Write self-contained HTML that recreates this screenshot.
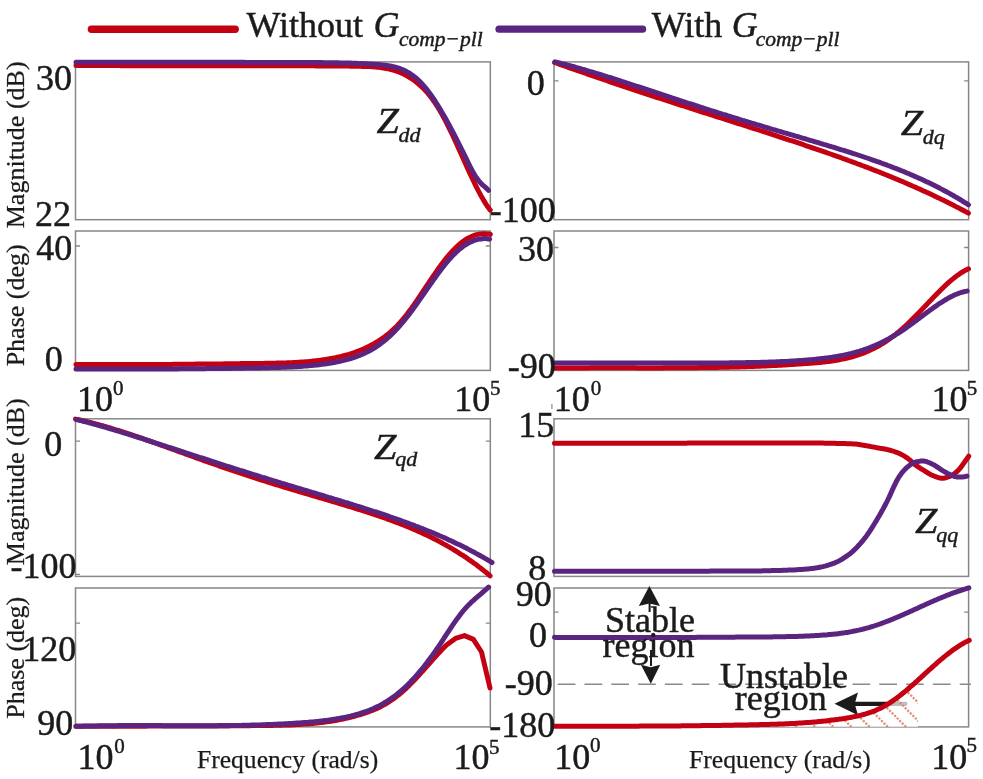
<!DOCTYPE html>
<html><head><meta charset="utf-8"><style>html,body{margin:0;padding:0;background:#fff;overflow:hidden}svg{display:block;will-change:transform}</style></head><body>
<svg width="983" height="779" viewBox="0 0 983 779" style="font-family:'Liberation Serif',serif">
<style>text{stroke:#1b1b1b;stroke-width:0.45px;paint-order:stroke}text.s{stroke-width:0.25px}</style>
<rect width="983" height="779" fill="#fff"/>
<rect x="75.5" y="61.9" width="414.80" height="157.80" fill="none" stroke="#878787" stroke-width="1.5"/>
<rect x="75.5" y="231.0" width="414.80" height="139.40" fill="none" stroke="#878787" stroke-width="1.5"/>
<path d="M75.5,246.0h4.5M490.3,246.0h-4.5" stroke="#878787" stroke-width="1.3"/>
<rect x="554.0" y="61.9" width="414.60" height="157.80" fill="none" stroke="#878787" stroke-width="1.5"/>
<path d="M554.0,80.8h4.5M968.6,80.8h-4.5" stroke="#878787" stroke-width="1.3"/>
<rect x="554.0" y="231.0" width="414.60" height="139.40" fill="none" stroke="#878787" stroke-width="1.5"/>
<path d="M554.0,247.5h4.5M968.6,247.5h-4.5" stroke="#878787" stroke-width="1.3"/>
<rect x="75.5" y="418.8" width="414.80" height="157.60" fill="none" stroke="#878787" stroke-width="1.5"/>
<path d="M75.5,441.2h4.5M490.3,441.2h-4.5" stroke="#878787" stroke-width="1.3"/>
<path d="M75.5,574.3h4.5M490.3,574.3h-4.5" stroke="#878787" stroke-width="1.3"/>
<rect x="75.5" y="588.0" width="414.80" height="138.90" fill="none" stroke="#878787" stroke-width="1.5"/>
<path d="M75.5,623.2h4.5M490.3,623.2h-4.5" stroke="#878787" stroke-width="1.3"/>
<rect x="554.0" y="418.8" width="414.60" height="157.60" fill="none" stroke="#878787" stroke-width="1.5"/>
<rect x="554.0" y="588.0" width="414.60" height="138.90" fill="none" stroke="#878787" stroke-width="1.5"/>
<path d="M554.0,612.2h4.5M968.6,612.2h-4.5" stroke="#878787" stroke-width="1.3"/>
<path d="M551.9,404.1V408.9" stroke="#9a9a9a" stroke-width="1.4"/>
<path d="M555,684.3H971" stroke="#8a8a8a" stroke-width="1.6" stroke-dasharray="17.7 9.1" stroke-dashoffset="-2.7"/>
<path d="M854,703.8H905.4" stroke="#1b1b1b" stroke-width="4.3" stroke-linecap="round"/>
<path d="M834.5,703.8 L858,692.5 L854.7,703.8 L858,715.3 Z" fill="#1b1b1b"/>
<defs><clipPath id="hc"><path d="M740.5,725.0 742.0,725.0 743.5,725.0 745.0,724.9 746.5,724.9 748.0,724.9 749.5,724.8 751.0,724.8 752.5,724.8 754.0,724.8 755.5,724.7 757.0,724.7 758.5,724.7 760.0,724.6 761.5,724.6 763.0,724.5 764.5,724.5 766.0,724.5 767.5,724.4 769.0,724.4 770.5,724.3 772.0,724.3 773.5,724.3 775.0,724.2 776.5,724.2 778.0,724.1 779.5,724.1 781.0,724.0 782.5,723.9 784.0,723.9 785.5,723.8 787.0,723.8 788.5,723.7 790.0,723.6 791.5,723.5 793.0,723.5 794.5,723.4 796.0,723.3 797.5,723.2 799.0,723.1 800.5,723.0 802.0,722.9 803.5,722.8 805.0,722.7 806.5,722.6 808.0,722.5 809.5,722.4 811.0,722.3 812.5,722.2 814.0,722.0 815.5,721.9 817.0,721.8 818.5,721.6 820.0,721.5 821.5,721.3 823.0,721.2 824.5,721.0 826.0,720.9 827.5,720.7 829.0,720.5 830.5,720.3 832.0,720.1 833.5,720.0 835.0,719.8 836.5,719.6 838.0,719.4 839.5,719.1 841.0,718.9 842.5,718.7 844.0,718.5 845.5,718.2 847.0,718.0 848.5,717.7 850.0,717.5 851.5,717.2 853.0,716.9 854.5,716.6 856.0,716.3 857.5,716.0 859.0,715.7 860.5,715.3 862.0,714.9 863.5,714.5 865.0,714.1 866.5,713.7 868.0,713.2 869.5,712.7 871.0,712.2 872.5,711.6 874.0,711.1 875.5,710.5 877.0,709.8 878.5,709.1 880.0,708.4 881.5,707.7 883.0,706.9 884.5,706.1 886.0,705.2 887.5,704.3 889.0,703.4 890.5,702.4 892.0,701.4 893.5,700.4 895.0,699.3 896.5,698.2 898.0,697.1 899.5,695.9 901.0,694.7 902.5,693.5 904.0,692.3 905.5,691.1 907.0,689.8 908.5,688.5 910.0,687.2 911.5,685.9 913.0,684.6 914.5,683.3 916.0,681.9 917.5,680.6 919.0,679.2 920.5,677.8 922.0,676.5 923.5,675.1 925.0,673.7 926.5,672.4 928.0,671.0 929.5,669.6 931.0,668.3 932.5,666.9 934.0,665.6 935.5,664.3 937.0,662.9 938.5,661.6 940.0,660.3 941.5,659.1 943.0,657.8 944.5,656.6 946.0,655.4 947.5,654.2 949.0,653.0 950.5,651.9 952.0,650.7 953.5,649.6 955.0,648.6 956.5,647.6 958.0,646.6 959.5,645.6 961.0,644.7 962.5,643.8 964.0,642.9 965.5,642.1 967.0,641.4 968.5,640.6 969.3,640.3 L968.7,726.9 L740,726.9 Z"/></clipPath><clipPath id="hcr"><rect x="760" y="684.3" width="158" height="42.6"/></clipPath></defs>
<g clip-path="url(#hc)"><g clip-path="url(#hcr)">
<rect x="760" y="684" width="158" height="43" fill="#fdfdfe" fill-opacity="0.72"/>
<path d="M710.5,677L760.5,727M728.7,677L778.7,727M746.9,677L796.9,727M765.1,677L815.1,727M783.3,677L833.3,727M801.5,677L851.5,727M819.7,677L869.7,727M837.9,677L887.9,727M856.1,677L906.1,727M874.3,677L924.3,727M892.5,677L942.5,727M910.7,677L960.7,727M928.9,677L978.9,727M947.1,677L997.1,727M965.3,677L1015.3,727M983.5,677L1033.5,727" stroke="#d9785a" stroke-opacity="0.8" stroke-width="2.3" stroke-dasharray="2.2 1.4"/>
</g></g>
<path d="M76.0,65.6 77.5,65.6 79.0,65.6 80.5,65.6 82.0,65.6 83.5,65.6 85.0,65.6 86.5,65.6 88.0,65.6 89.5,65.6 91.0,65.6 92.5,65.6 94.0,65.6 95.5,65.6 97.0,65.6 98.5,65.6 100.0,65.6 101.5,65.6 103.0,65.6 104.5,65.6 106.0,65.6 107.5,65.6 109.0,65.6 110.5,65.6 112.0,65.6 113.5,65.6 115.0,65.6 116.5,65.6 118.0,65.6 119.5,65.6 121.0,65.7 122.5,65.7 124.0,65.7 125.5,65.7 127.0,65.7 128.5,65.7 130.0,65.7 131.5,65.7 133.0,65.7 134.5,65.7 136.0,65.7 137.5,65.7 139.0,65.7 140.5,65.7 142.0,65.7 143.5,65.7 145.0,65.7 146.5,65.7 148.0,65.7 149.5,65.7 151.0,65.7 152.5,65.7 154.0,65.7 155.5,65.7 157.0,65.7 158.5,65.7 160.0,65.7 161.5,65.7 163.0,65.7 164.5,65.7 166.0,65.7 167.5,65.7 169.0,65.7 170.5,65.7 172.0,65.7 173.5,65.7 175.0,65.7 176.5,65.7 178.0,65.7 179.5,65.7 181.0,65.7 182.5,65.7 184.0,65.7 185.5,65.7 187.0,65.7 188.5,65.7 190.0,65.7 191.5,65.7 193.0,65.7 194.5,65.7 196.0,65.7 197.5,65.7 199.0,65.7 200.5,65.7 202.0,65.7 203.5,65.7 205.0,65.7 206.5,65.7 208.0,65.7 209.5,65.7 211.0,65.7 212.5,65.7 214.0,65.7 215.5,65.7 217.0,65.7 218.5,65.7 220.0,65.7 221.5,65.7 223.0,65.7 224.5,65.7 226.0,65.7 227.5,65.7 229.0,65.7 230.5,65.7 232.0,65.7 233.5,65.7 235.0,65.7 236.5,65.7 238.0,65.7 239.5,65.7 241.0,65.7 242.5,65.7 244.0,65.7 245.5,65.7 247.0,65.7 248.5,65.7 250.0,65.7 251.5,65.7 253.0,65.7 254.5,65.7 256.0,65.7 257.5,65.7 259.0,65.7 260.5,65.7 262.0,65.7 263.5,65.7 265.0,65.7 266.5,65.7 268.0,65.7 269.5,65.7 271.0,65.8 272.5,65.8 274.0,65.8 275.5,65.8 277.0,65.8 278.5,65.8 280.0,65.8 281.5,65.8 283.0,65.8 284.5,65.8 286.0,65.8 287.5,65.8 289.0,65.8 290.5,65.8 292.0,65.8 293.5,65.8 295.0,65.8 296.5,65.8 298.0,65.8 299.5,65.8 301.0,65.8 302.5,65.8 304.0,65.8 305.5,65.8 307.0,65.8 308.5,65.8 310.0,65.8 311.5,65.8 313.0,65.8 314.5,65.8 316.0,65.9 317.5,65.9 319.0,65.9 320.5,65.9 322.0,65.9 323.5,65.9 325.0,65.9 326.5,65.9 328.0,65.9 329.5,65.9 331.0,65.9 332.5,66.0 334.0,66.0 335.5,66.0 337.0,66.0 338.5,66.0 340.0,66.0 341.5,66.0 343.0,66.1 344.5,66.1 346.0,66.1 347.5,66.1 349.0,66.1 350.5,66.2 352.0,66.2 353.5,66.2 355.0,66.2 356.5,66.3 358.0,66.3 359.5,66.3 361.0,66.3 362.5,66.4 364.0,66.4 365.5,66.5 367.0,66.5 368.5,66.6 370.0,66.6 371.5,66.7 373.0,66.8 374.5,66.9 376.0,67.0 377.5,67.2 379.0,67.3 380.5,67.5 382.0,67.7 383.5,68.0 385.0,68.2 386.5,68.5 388.0,68.8 389.5,69.1 391.0,69.5 392.5,69.9 394.0,70.4 395.5,70.8 397.0,71.4 398.5,71.9 400.0,72.5 401.5,73.2 403.0,73.8 404.5,74.6 406.0,75.4 407.5,76.2 409.0,77.1 410.5,78.0 412.0,79.0 413.5,80.0 415.0,81.1 416.5,82.3 418.0,83.5 419.5,84.8 421.0,86.2 422.5,87.6 424.0,89.1 425.5,90.7 427.0,92.4 428.5,94.1 430.0,96.0 431.5,97.9 433.0,100.0 434.5,102.1 436.0,104.3 437.5,106.7 439.0,109.1 440.5,111.7 442.0,114.3 443.5,117.1 445.0,119.9 446.5,122.8 448.0,125.8 449.5,128.8 451.0,131.9 452.5,135.0 454.0,138.2 455.5,141.5 457.0,144.8 458.5,148.1 460.0,151.4 461.5,154.8 463.0,158.1 464.5,161.5 466.0,164.8 467.5,168.1 469.0,171.4 470.5,174.6 472.0,177.8 473.5,181.0 475.0,184.1 476.5,187.1 478.0,190.1 479.5,192.9 481.0,195.7 482.5,198.3 484.0,200.9 485.5,203.3 487.0,205.7 488.5,207.8 490.0,209.9 490.2,210.1" fill="none" stroke="#c40013" stroke-width="5.0" stroke-linecap="round" stroke-linejoin="round"/>
<path d="M76.0,62.2 77.5,62.2 79.0,62.2 80.5,62.2 82.0,62.2 83.5,62.2 85.0,62.2 86.5,62.2 88.0,62.2 89.5,62.2 91.0,62.2 92.5,62.2 94.0,62.2 95.5,62.2 97.0,62.2 98.5,62.2 100.0,62.2 101.5,62.2 103.0,62.2 104.5,62.2 106.0,62.2 107.5,62.2 109.0,62.2 110.5,62.2 112.0,62.2 113.5,62.2 115.0,62.2 116.5,62.3 118.0,62.3 119.5,62.3 121.0,62.3 122.5,62.3 124.0,62.3 125.5,62.3 127.0,62.3 128.5,62.3 130.0,62.3 131.5,62.3 133.0,62.3 134.5,62.3 136.0,62.3 137.5,62.3 139.0,62.3 140.5,62.3 142.0,62.3 143.5,62.3 145.0,62.3 146.5,62.3 148.0,62.3 149.5,62.3 151.0,62.3 152.5,62.3 154.0,62.3 155.5,62.3 157.0,62.3 158.5,62.3 160.0,62.3 161.5,62.3 163.0,62.3 164.5,62.3 166.0,62.3 167.5,62.3 169.0,62.3 170.5,62.3 172.0,62.3 173.5,62.3 175.0,62.3 176.5,62.3 178.0,62.3 179.5,62.3 181.0,62.3 182.5,62.3 184.0,62.3 185.5,62.3 187.0,62.3 188.5,62.3 190.0,62.3 191.5,62.3 193.0,62.3 194.5,62.3 196.0,62.3 197.5,62.3 199.0,62.3 200.5,62.3 202.0,62.3 203.5,62.3 205.0,62.3 206.5,62.3 208.0,62.3 209.5,62.3 211.0,62.3 212.5,62.3 214.0,62.3 215.5,62.3 217.0,62.3 218.5,62.3 220.0,62.3 221.5,62.3 223.0,62.3 224.5,62.3 226.0,62.3 227.5,62.3 229.0,62.3 230.5,62.3 232.0,62.3 233.5,62.3 235.0,62.3 236.5,62.3 238.0,62.3 239.5,62.3 241.0,62.3 242.5,62.3 244.0,62.3 245.5,62.4 247.0,62.4 248.5,62.4 250.0,62.4 251.5,62.4 253.0,62.4 254.5,62.4 256.0,62.4 257.5,62.4 259.0,62.4 260.5,62.4 262.0,62.4 263.5,62.4 265.0,62.4 266.5,62.4 268.0,62.4 269.5,62.4 271.0,62.4 272.5,62.4 274.0,62.4 275.5,62.4 277.0,62.4 278.5,62.4 280.0,62.4 281.5,62.4 283.0,62.4 284.5,62.5 286.0,62.5 287.5,62.5 289.0,62.5 290.5,62.5 292.0,62.5 293.5,62.5 295.0,62.5 296.5,62.5 298.0,62.5 299.5,62.5 301.0,62.5 302.5,62.5 304.0,62.5 305.5,62.5 307.0,62.6 308.5,62.6 310.0,62.6 311.5,62.6 313.0,62.6 314.5,62.6 316.0,62.6 317.5,62.6 319.0,62.6 320.5,62.6 322.0,62.6 323.5,62.7 325.0,62.7 326.5,62.7 328.0,62.7 329.5,62.7 331.0,62.7 332.5,62.7 334.0,62.8 335.5,62.8 337.0,62.8 338.5,62.8 340.0,62.9 341.5,62.9 343.0,62.9 344.5,63.0 346.0,63.0 347.5,63.0 349.0,63.1 350.5,63.1 352.0,63.2 353.5,63.2 355.0,63.3 356.5,63.3 358.0,63.4 359.5,63.5 361.0,63.5 362.5,63.6 364.0,63.7 365.5,63.7 367.0,63.8 368.5,63.9 370.0,64.0 371.5,64.1 373.0,64.2 374.5,64.3 376.0,64.4 377.5,64.5 379.0,64.6 380.5,64.7 382.0,64.9 383.5,65.0 385.0,65.2 386.5,65.4 388.0,65.6 389.5,65.9 391.0,66.1 392.5,66.5 394.0,66.8 395.5,67.2 397.0,67.6 398.5,68.1 400.0,68.6 401.5,69.2 403.0,69.8 404.5,70.5 406.0,71.3 407.5,72.1 409.0,73.0 410.5,73.9 412.0,75.0 413.5,76.1 415.0,77.2 416.5,78.5 418.0,79.8 419.5,81.3 421.0,82.8 422.5,84.4 424.0,86.1 425.5,87.9 427.0,89.7 428.5,91.7 430.0,93.7 431.5,95.8 433.0,98.0 434.5,100.2 436.0,102.5 437.5,104.9 439.0,107.3 440.5,109.8 442.0,112.4 443.5,115.0 445.0,117.6 446.5,120.3 448.0,123.0 449.5,125.8 451.0,128.6 452.5,131.5 454.0,134.3 455.5,137.2 457.0,140.2 458.5,143.1 460.0,146.1 461.5,149.1 463.0,152.2 464.5,155.2 466.0,158.2 467.5,161.3 469.0,164.3 470.5,167.3 472.0,170.2 473.5,172.9 475.0,175.5 476.5,177.8 478.0,179.9 479.5,181.8 481.0,183.4 482.5,184.8 484.0,186.1 485.5,187.4 487.0,188.8 488.5,190.4" fill="none" stroke="#5a2480" stroke-width="5.0" stroke-linecap="round" stroke-linejoin="round"/>
<path d="M76.0,364.5 77.5,364.5 79.0,364.5 80.5,364.5 82.0,364.5 83.5,364.5 85.0,364.5 86.5,364.5 88.0,364.5 89.5,364.5 91.0,364.6 92.5,364.6 94.0,364.6 95.5,364.6 97.0,364.6 98.5,364.6 100.0,364.6 101.5,364.6 103.0,364.6 104.5,364.6 106.0,364.6 107.5,364.6 109.0,364.6 110.5,364.6 112.0,364.6 113.5,364.6 115.0,364.6 116.5,364.6 118.0,364.6 119.5,364.6 121.0,364.6 122.5,364.6 124.0,364.6 125.5,364.6 127.0,364.6 128.5,364.6 130.0,364.6 131.5,364.6 133.0,364.6 134.5,364.6 136.0,364.6 137.5,364.5 139.0,364.5 140.5,364.5 142.0,364.5 143.5,364.5 145.0,364.5 146.5,364.5 148.0,364.5 149.5,364.5 151.0,364.5 152.5,364.5 154.0,364.5 155.5,364.5 157.0,364.5 158.5,364.4 160.0,364.4 161.5,364.4 163.0,364.4 164.5,364.4 166.0,364.4 167.5,364.4 169.0,364.4 170.5,364.4 172.0,364.4 173.5,364.3 175.0,364.3 176.5,364.3 178.0,364.3 179.5,364.3 181.0,364.3 182.5,364.3 184.0,364.3 185.5,364.2 187.0,364.2 188.5,364.2 190.0,364.2 191.5,364.2 193.0,364.2 194.5,364.2 196.0,364.1 197.5,364.1 199.0,364.1 200.5,364.1 202.0,364.1 203.5,364.1 205.0,364.1 206.5,364.0 208.0,364.0 209.5,364.0 211.0,364.0 212.5,364.0 214.0,364.0 215.5,363.9 217.0,363.9 218.5,363.9 220.0,363.9 221.5,363.9 223.0,363.9 224.5,363.8 226.0,363.8 227.5,363.8 229.0,363.8 230.5,363.8 232.0,363.8 233.5,363.7 235.0,363.7 236.5,363.7 238.0,363.7 239.5,363.7 241.0,363.6 242.5,363.6 244.0,363.6 245.5,363.6 247.0,363.6 248.5,363.5 250.0,363.5 251.5,363.5 253.0,363.5 254.5,363.5 256.0,363.4 257.5,363.4 259.0,363.4 260.5,363.4 262.0,363.4 263.5,363.4 265.0,363.3 266.5,363.3 268.0,363.3 269.5,363.3 271.0,363.2 272.5,363.2 274.0,363.2 275.5,363.2 277.0,363.1 278.5,363.1 280.0,363.1 281.5,363.0 283.0,363.0 284.5,362.9 286.0,362.9 287.5,362.8 289.0,362.8 290.5,362.7 292.0,362.7 293.5,362.6 295.0,362.5 296.5,362.4 298.0,362.3 299.5,362.2 301.0,362.1 302.5,362.0 304.0,361.9 305.5,361.8 307.0,361.7 308.5,361.6 310.0,361.4 311.5,361.3 313.0,361.1 314.5,361.0 316.0,360.8 317.5,360.6 319.0,360.4 320.5,360.2 322.0,360.0 323.5,359.8 325.0,359.6 326.5,359.3 328.0,359.1 329.5,358.8 331.0,358.5 332.5,358.3 334.0,358.0 335.5,357.7 337.0,357.3 338.5,357.0 340.0,356.7 341.5,356.3 343.0,355.9 344.5,355.5 346.0,355.1 347.5,354.7 349.0,354.3 350.5,353.8 352.0,353.3 353.5,352.8 355.0,352.3 356.5,351.7 358.0,351.2 359.5,350.6 361.0,350.0 362.5,349.4 364.0,348.7 365.5,348.0 367.0,347.3 368.5,346.6 370.0,345.8 371.5,345.0 373.0,344.2 374.5,343.4 376.0,342.5 377.5,341.6 379.0,340.7 380.5,339.7 382.0,338.7 383.5,337.6 385.0,336.5 386.5,335.3 388.0,334.1 389.5,332.9 391.0,331.6 392.5,330.2 394.0,328.8 395.5,327.4 397.0,325.9 398.5,324.3 400.0,322.7 401.5,321.0 403.0,319.2 404.5,317.4 406.0,315.5 407.5,313.6 409.0,311.6 410.5,309.6 412.0,307.5 413.5,305.4 415.0,303.3 416.5,301.1 418.0,298.9 419.5,296.7 421.0,294.5 422.5,292.2 424.0,290.0 425.5,287.7 427.0,285.4 428.5,283.2 430.0,280.9 431.5,278.7 433.0,276.5 434.5,274.3 436.0,272.1 437.5,269.9 439.0,267.8 440.5,265.8 442.0,263.7 443.5,261.7 445.0,259.8 446.5,257.9 448.0,256.1 449.5,254.3 451.0,252.6 452.5,250.9 454.0,249.4 455.5,247.9 457.0,246.5 458.5,245.1 460.0,243.8 461.5,242.6 463.0,241.5 464.5,240.4 466.0,239.4 467.5,238.5 469.0,237.7 470.5,237.0 472.0,236.3 473.5,235.7 475.0,235.2 476.5,234.7 478.0,234.4 479.5,234.1 481.0,233.9 482.5,233.8 484.0,233.7 485.5,233.8 487.0,233.9 488.5,234.1 490.0,234.3 490.3,234.4" fill="none" stroke="#c40013" stroke-width="5.0" stroke-linecap="round" stroke-linejoin="round"/>
<path d="M76.0,369.1 77.5,369.1 79.0,369.1 80.5,369.1 82.0,369.1 83.5,369.1 85.0,369.1 86.5,369.1 88.0,369.1 89.5,369.1 91.0,369.1 92.5,369.0 94.0,369.0 95.5,369.0 97.0,369.0 98.5,369.0 100.0,369.0 101.5,369.0 103.0,369.0 104.5,369.0 106.0,369.0 107.5,369.0 109.0,369.0 110.5,369.0 112.0,369.0 113.5,369.0 115.0,369.0 116.5,369.0 118.0,369.0 119.5,369.0 121.0,369.0 122.5,369.0 124.0,369.0 125.5,369.0 127.0,369.0 128.5,369.0 130.0,369.0 131.5,369.0 133.0,369.0 134.5,369.0 136.0,369.0 137.5,369.0 139.0,369.0 140.5,369.0 142.0,369.0 143.5,369.0 145.0,369.0 146.5,369.0 148.0,369.0 149.5,369.0 151.0,369.0 152.5,369.0 154.0,369.0 155.5,369.0 157.0,368.9 158.5,368.9 160.0,368.9 161.5,368.9 163.0,368.9 164.5,368.9 166.0,368.9 167.5,368.9 169.0,368.9 170.5,368.9 172.0,368.9 173.5,368.9 175.0,368.9 176.5,368.9 178.0,368.9 179.5,368.8 181.0,368.8 182.5,368.8 184.0,368.8 185.5,368.8 187.0,368.8 188.5,368.8 190.0,368.8 191.5,368.8 193.0,368.8 194.5,368.7 196.0,368.7 197.5,368.7 199.0,368.7 200.5,368.7 202.0,368.7 203.5,368.7 205.0,368.7 206.5,368.6 208.0,368.6 209.5,368.6 211.0,368.6 212.5,368.6 214.0,368.6 215.5,368.5 217.0,368.5 218.5,368.5 220.0,368.5 221.5,368.5 223.0,368.5 224.5,368.4 226.0,368.4 227.5,368.4 229.0,368.4 230.5,368.4 232.0,368.3 233.5,368.3 235.0,368.3 236.5,368.3 238.0,368.3 239.5,368.2 241.0,368.2 242.5,368.2 244.0,368.2 245.5,368.1 247.0,368.1 248.5,368.1 250.0,368.1 251.5,368.0 253.0,368.0 254.5,368.0 256.0,368.0 257.5,367.9 259.0,367.9 260.5,367.9 262.0,367.8 263.5,367.8 265.0,367.8 266.5,367.8 268.0,367.7 269.5,367.7 271.0,367.6 272.5,367.6 274.0,367.6 275.5,367.5 277.0,367.5 278.5,367.4 280.0,367.4 281.5,367.3 283.0,367.3 284.5,367.2 286.0,367.2 287.5,367.1 289.0,367.1 290.5,367.0 292.0,366.9 293.5,366.8 295.0,366.7 296.5,366.7 298.0,366.6 299.5,366.5 301.0,366.4 302.5,366.3 304.0,366.1 305.5,366.0 307.0,365.9 308.5,365.8 310.0,365.6 311.5,365.5 313.0,365.3 314.5,365.2 316.0,365.0 317.5,364.9 319.0,364.7 320.5,364.5 322.0,364.3 323.5,364.1 325.0,363.9 326.5,363.7 328.0,363.4 329.5,363.2 331.0,363.0 332.5,362.7 334.0,362.4 335.5,362.2 337.0,361.9 338.5,361.6 340.0,361.3 341.5,360.9 343.0,360.6 344.5,360.2 346.0,359.8 347.5,359.4 349.0,359.0 350.5,358.6 352.0,358.1 353.5,357.6 355.0,357.1 356.5,356.6 358.0,356.0 359.5,355.5 361.0,354.8 362.5,354.2 364.0,353.5 365.5,352.8 367.0,352.1 368.5,351.3 370.0,350.5 371.5,349.7 373.0,348.8 374.5,347.9 376.0,346.9 377.5,345.9 379.0,344.9 380.5,343.8 382.0,342.6 383.5,341.5 385.0,340.2 386.5,339.0 388.0,337.6 389.5,336.3 391.0,334.9 392.5,333.4 394.0,331.9 395.5,330.4 397.0,328.8 398.5,327.2 400.0,325.5 401.5,323.7 403.0,322.0 404.5,320.2 406.0,318.3 407.5,316.4 409.0,314.4 410.5,312.4 412.0,310.4 413.5,308.4 415.0,306.3 416.5,304.2 418.0,302.1 419.5,299.9 421.0,297.8 422.5,295.6 424.0,293.5 425.5,291.3 427.0,289.1 428.5,287.0 430.0,284.8 431.5,282.7 433.0,280.6 434.5,278.4 436.0,276.4 437.5,274.3 439.0,272.3 440.5,270.3 442.0,268.3 443.5,266.4 445.0,264.5 446.5,262.7 448.0,260.9 449.5,259.2 451.0,257.5 452.5,255.9 454.0,254.3 455.5,252.9 457.0,251.5 458.5,250.1 460.0,248.9 461.5,247.7 463.0,246.5 464.5,245.5 466.0,244.5 467.5,243.6 469.0,242.8 470.5,242.0 472.0,241.4 473.5,240.7 475.0,240.2 476.5,239.8 478.0,239.4 479.5,239.1 481.0,238.9 482.5,238.7 484.0,238.6 485.5,238.6 487.0,238.7 488.5,238.9 489.6,239.1" fill="none" stroke="#5a2480" stroke-width="5.0" stroke-linecap="round" stroke-linejoin="round"/>
<path d="M554.5,62.5 556.0,63.0 557.5,63.5 559.0,64.1 560.5,64.6 562.0,65.1 563.5,65.7 565.0,66.2 566.5,66.7 568.0,67.3 569.5,67.8 571.0,68.3 572.5,68.8 574.0,69.4 575.5,69.9 577.0,70.4 578.5,70.9 580.0,71.5 581.5,72.0 583.0,72.5 584.5,73.0 586.0,73.5 587.5,74.1 589.0,74.6 590.5,75.1 592.0,75.6 593.5,76.1 595.0,76.6 596.5,77.2 598.0,77.7 599.5,78.2 601.0,78.7 602.5,79.2 604.0,79.7 605.5,80.2 607.0,80.7 608.5,81.3 610.0,81.8 611.5,82.3 613.0,82.8 614.5,83.3 616.0,83.8 617.5,84.3 619.0,84.8 620.5,85.3 622.0,85.8 623.5,86.3 625.0,86.8 626.5,87.3 628.0,87.8 629.5,88.3 631.0,88.8 632.5,89.3 634.0,89.8 635.5,90.3 637.0,90.8 638.5,91.3 640.0,91.8 641.5,92.3 643.0,92.8 644.5,93.3 646.0,93.8 647.5,94.3 649.0,94.8 650.5,95.3 652.0,95.8 653.5,96.3 655.0,96.8 656.5,97.3 658.0,97.8 659.5,98.2 661.0,98.7 662.5,99.2 664.0,99.7 665.5,100.2 667.0,100.7 668.5,101.2 670.0,101.7 671.5,102.1 673.0,102.6 674.5,103.1 676.0,103.6 677.5,104.1 679.0,104.6 680.5,105.1 682.0,105.5 683.5,106.0 685.0,106.5 686.5,107.0 688.0,107.5 689.5,108.0 691.0,108.4 692.5,108.9 694.0,109.4 695.5,109.9 697.0,110.4 698.5,110.8 700.0,111.3 701.5,111.8 703.0,112.3 704.5,112.8 706.0,113.2 707.5,113.7 709.0,114.2 710.5,114.7 712.0,115.2 713.5,115.6 715.0,116.1 716.5,116.6 718.0,117.1 719.5,117.5 721.0,118.0 722.5,118.5 724.0,119.0 725.5,119.5 727.0,119.9 728.5,120.4 730.0,120.9 731.5,121.4 733.0,121.8 734.5,122.3 736.0,122.8 737.5,123.3 739.0,123.8 740.5,124.2 742.0,124.7 743.5,125.2 745.0,125.7 746.5,126.2 748.0,126.6 749.5,127.1 751.0,127.6 752.5,128.1 754.0,128.6 755.5,129.0 757.0,129.5 758.5,130.0 760.0,130.5 761.5,131.0 763.0,131.5 764.5,131.9 766.0,132.4 767.5,132.9 769.0,133.4 770.5,133.9 772.0,134.4 773.5,134.9 775.0,135.3 776.5,135.8 778.0,136.3 779.5,136.8 781.0,137.3 782.5,137.8 784.0,138.3 785.5,138.8 787.0,139.3 788.5,139.8 790.0,140.3 791.5,140.7 793.0,141.2 794.5,141.7 796.0,142.2 797.5,142.7 799.0,143.2 800.5,143.7 802.0,144.2 803.5,144.7 805.0,145.3 806.5,145.8 808.0,146.3 809.5,146.8 811.0,147.3 812.5,147.8 814.0,148.3 815.5,148.8 817.0,149.3 818.5,149.8 820.0,150.4 821.5,150.9 823.0,151.4 824.5,151.9 826.0,152.4 827.5,153.0 829.0,153.5 830.5,154.0 832.0,154.5 833.5,155.1 835.0,155.6 836.5,156.1 838.0,156.7 839.5,157.2 841.0,157.7 842.5,158.3 844.0,158.8 845.5,159.4 847.0,159.9 848.5,160.5 850.0,161.0 851.5,161.6 853.0,162.1 854.5,162.7 856.0,163.2 857.5,163.8 859.0,164.3 860.5,164.9 862.0,165.5 863.5,166.0 865.0,166.6 866.5,167.2 868.0,167.7 869.5,168.3 871.0,168.9 872.5,169.5 874.0,170.1 875.5,170.7 877.0,171.2 878.5,171.8 880.0,172.4 881.5,173.0 883.0,173.6 884.5,174.2 886.0,174.8 887.5,175.4 889.0,176.0 890.5,176.6 892.0,177.3 893.5,177.9 895.0,178.5 896.5,179.1 898.0,179.8 899.5,180.4 901.0,181.0 902.5,181.6 904.0,182.3 905.5,182.9 907.0,183.6 908.5,184.2 910.0,184.9 911.5,185.5 913.0,186.2 914.5,186.8 916.0,187.5 917.5,188.2 919.0,188.8 920.5,189.5 922.0,190.2 923.5,190.9 925.0,191.6 926.5,192.3 928.0,192.9 929.5,193.6 931.0,194.3 932.5,195.1 934.0,195.8 935.5,196.5 937.0,197.2 938.5,197.9 940.0,198.6 941.5,199.4 943.0,200.1 944.5,200.8 946.0,201.6 947.5,202.3 949.0,203.1 950.5,203.8 952.0,204.6 953.5,205.3 955.0,206.1 956.5,206.9 958.0,207.6 959.5,208.4 961.0,209.2 962.5,210.0 964.0,210.8 965.5,211.6 967.0,212.4 968.4,213.2" fill="none" stroke="#c40013" stroke-width="5.0" stroke-linecap="round" stroke-linejoin="round"/>
<path d="M555.0,61.9 556.5,62.2 558.0,62.6 559.5,63.0 561.0,63.4 562.5,63.7 564.0,64.1 565.5,64.5 567.0,64.9 568.5,65.3 570.0,65.7 571.5,66.1 573.0,66.5 574.5,66.9 576.0,67.4 577.5,67.8 579.0,68.2 580.5,68.6 582.0,69.1 583.5,69.5 585.0,69.9 586.5,70.4 588.0,70.8 589.5,71.3 591.0,71.7 592.5,72.1 594.0,72.6 595.5,73.1 597.0,73.5 598.5,74.0 600.0,74.4 601.5,74.9 603.0,75.4 604.5,75.8 606.0,76.3 607.5,76.8 609.0,77.2 610.5,77.7 612.0,78.2 613.5,78.7 615.0,79.1 616.5,79.6 618.0,80.1 619.5,80.6 621.0,81.1 622.5,81.6 624.0,82.0 625.5,82.5 627.0,83.0 628.5,83.5 630.0,84.0 631.5,84.5 633.0,85.0 634.5,85.5 636.0,86.0 637.5,86.5 639.0,86.9 640.5,87.4 642.0,87.9 643.5,88.4 645.0,88.9 646.5,89.4 648.0,89.9 649.5,90.4 651.0,90.9 652.5,91.4 654.0,91.9 655.5,92.4 657.0,92.9 658.5,93.4 660.0,93.9 661.5,94.4 663.0,94.9 664.5,95.4 666.0,95.9 667.5,96.4 669.0,96.9 670.5,97.4 672.0,97.9 673.5,98.3 675.0,98.8 676.5,99.3 678.0,99.8 679.5,100.3 681.0,100.8 682.5,101.3 684.0,101.8 685.5,102.3 687.0,102.8 688.5,103.3 690.0,103.7 691.5,104.2 693.0,104.7 694.5,105.2 696.0,105.7 697.5,106.2 699.0,106.7 700.5,107.1 702.0,107.6 703.5,108.1 705.0,108.6 706.5,109.1 708.0,109.5 709.5,110.0 711.0,110.5 712.5,111.0 714.0,111.4 715.5,111.9 717.0,112.4 718.5,112.9 720.0,113.3 721.5,113.8 723.0,114.3 724.5,114.7 726.0,115.2 727.5,115.7 729.0,116.1 730.5,116.6 732.0,117.1 733.5,117.5 735.0,118.0 736.5,118.4 738.0,118.9 739.5,119.4 741.0,119.8 742.5,120.3 744.0,120.7 745.5,121.2 747.0,121.6 748.5,122.1 750.0,122.5 751.5,123.0 753.0,123.5 754.5,123.9 756.0,124.4 757.5,124.8 759.0,125.2 760.5,125.7 762.0,126.1 763.5,126.6 765.0,127.0 766.5,127.5 768.0,127.9 769.5,128.4 771.0,128.8 772.5,129.3 774.0,129.7 775.5,130.1 777.0,130.6 778.5,131.0 780.0,131.5 781.5,131.9 783.0,132.3 784.5,132.8 786.0,133.2 787.5,133.7 789.0,134.1 790.5,134.5 792.0,135.0 793.5,135.4 795.0,135.9 796.5,136.3 798.0,136.7 799.5,137.2 801.0,137.6 802.5,138.1 804.0,138.5 805.5,138.9 807.0,139.4 808.5,139.8 810.0,140.3 811.5,140.7 813.0,141.1 814.5,141.6 816.0,142.0 817.5,142.5 819.0,142.9 820.5,143.4 822.0,143.8 823.5,144.3 825.0,144.7 826.5,145.2 828.0,145.6 829.5,146.1 831.0,146.5 832.5,147.0 834.0,147.4 835.5,147.9 837.0,148.4 838.5,148.8 840.0,149.3 841.5,149.8 843.0,150.2 844.5,150.7 846.0,151.2 847.5,151.6 849.0,152.1 850.5,152.6 852.0,153.1 853.5,153.6 855.0,154.0 856.5,154.5 858.0,155.0 859.5,155.5 861.0,156.0 862.5,156.5 864.0,157.0 865.5,157.5 867.0,158.0 868.5,158.5 870.0,159.0 871.5,159.6 873.0,160.1 874.5,160.6 876.0,161.1 877.5,161.7 879.0,162.2 880.5,162.7 882.0,163.3 883.5,163.8 885.0,164.4 886.5,164.9 888.0,165.5 889.5,166.0 891.0,166.6 892.5,167.2 894.0,167.8 895.5,168.3 897.0,168.9 898.5,169.5 900.0,170.1 901.5,170.7 903.0,171.3 904.5,171.9 906.0,172.6 907.5,173.2 909.0,173.8 910.5,174.5 912.0,175.1 913.5,175.7 915.0,176.4 916.5,177.1 918.0,177.7 919.5,178.4 921.0,179.1 922.5,179.8 924.0,180.5 925.5,181.2 927.0,181.9 928.5,182.6 930.0,183.3 931.5,184.0 933.0,184.8 934.5,185.5 936.0,186.3 937.5,187.0 939.0,187.8 940.5,188.6 942.0,189.4 943.5,190.2 945.0,191.0 946.5,191.8 948.0,192.6 949.5,193.4 951.0,194.3 952.5,195.1 954.0,196.0 955.5,196.9 957.0,197.7 958.5,198.6 960.0,199.5 961.5,200.4 963.0,201.3 964.5,202.3 966.0,203.2 967.5,204.2 968.5,204.8" fill="none" stroke="#5a2480" stroke-width="5.0" stroke-linecap="round" stroke-linejoin="round"/>
<path d="M554.5,368.1 556.0,368.1 557.5,368.1 559.0,368.1 560.5,368.0 562.0,368.0 563.5,368.0 565.0,368.0 566.5,368.0 568.0,368.0 569.5,368.0 571.0,367.9 572.5,367.9 574.0,367.9 575.5,367.9 577.0,367.9 578.5,367.9 580.0,367.9 581.5,367.9 583.0,367.9 584.5,367.9 586.0,367.9 587.5,367.9 589.0,367.9 590.5,367.8 592.0,367.8 593.5,367.8 595.0,367.8 596.5,367.8 598.0,367.8 599.5,367.8 601.0,367.8 602.5,367.8 604.0,367.8 605.5,367.8 607.0,367.8 608.5,367.8 610.0,367.8 611.5,367.8 613.0,367.8 614.5,367.8 616.0,367.8 617.5,367.8 619.0,367.8 620.5,367.8 622.0,367.8 623.5,367.8 625.0,367.8 626.5,367.8 628.0,367.8 629.5,367.8 631.0,367.8 632.5,367.8 634.0,367.8 635.5,367.8 637.0,367.9 638.5,367.9 640.0,367.9 641.5,367.9 643.0,367.9 644.5,367.9 646.0,367.9 647.5,367.9 649.0,367.9 650.5,367.9 652.0,367.9 653.5,367.9 655.0,367.9 656.5,367.9 658.0,367.9 659.5,367.9 661.0,367.9 662.5,367.9 664.0,367.8 665.5,367.8 667.0,367.8 668.5,367.8 670.0,367.8 671.5,367.8 673.0,367.8 674.5,367.8 676.0,367.8 677.5,367.8 679.0,367.8 680.5,367.8 682.0,367.8 683.5,367.8 685.0,367.8 686.5,367.8 688.0,367.7 689.5,367.7 691.0,367.7 692.5,367.7 694.0,367.7 695.5,367.7 697.0,367.7 698.5,367.6 700.0,367.6 701.5,367.6 703.0,367.6 704.5,367.6 706.0,367.6 707.5,367.5 709.0,367.5 710.5,367.5 712.0,367.5 713.5,367.4 715.0,367.4 716.5,367.4 718.0,367.4 719.5,367.3 721.0,367.3 722.5,367.3 724.0,367.3 725.5,367.2 727.0,367.2 728.5,367.2 730.0,367.1 731.5,367.1 733.0,367.0 734.5,367.0 736.0,367.0 737.5,366.9 739.0,366.9 740.5,366.8 742.0,366.8 743.5,366.7 745.0,366.7 746.5,366.7 748.0,366.6 749.5,366.6 751.0,366.5 752.5,366.4 754.0,366.4 755.5,366.3 757.0,366.3 758.5,366.2 760.0,366.2 761.5,366.1 763.0,366.0 764.5,366.0 766.0,365.9 767.5,365.8 769.0,365.8 770.5,365.7 772.0,365.6 773.5,365.5 775.0,365.5 776.5,365.4 778.0,365.3 779.5,365.2 781.0,365.2 782.5,365.1 784.0,365.0 785.5,364.9 787.0,364.8 788.5,364.7 790.0,364.6 791.5,364.5 793.0,364.4 794.5,364.3 796.0,364.2 797.5,364.1 799.0,364.0 800.5,363.9 802.0,363.8 803.5,363.7 805.0,363.6 806.5,363.5 808.0,363.4 809.5,363.3 811.0,363.2 812.5,363.0 814.0,362.9 815.5,362.8 817.0,362.7 818.5,362.5 820.0,362.4 821.5,362.2 823.0,362.1 824.5,361.9 826.0,361.7 827.5,361.6 829.0,361.4 830.5,361.2 832.0,361.0 833.5,360.7 835.0,360.5 836.5,360.3 838.0,360.0 839.5,359.7 841.0,359.4 842.5,359.1 844.0,358.8 845.5,358.5 847.0,358.1 848.5,357.8 850.0,357.4 851.5,357.0 853.0,356.6 854.5,356.1 856.0,355.7 857.5,355.2 859.0,354.7 860.5,354.2 862.0,353.6 863.5,353.1 865.0,352.5 866.5,351.8 868.0,351.2 869.5,350.5 871.0,349.8 872.5,349.1 874.0,348.4 875.5,347.6 877.0,346.8 878.5,346.0 880.0,345.1 881.5,344.2 883.0,343.3 884.5,342.3 886.0,341.4 887.5,340.3 889.0,339.3 890.5,338.2 892.0,337.1 893.5,336.0 895.0,334.9 896.5,333.7 898.0,332.4 899.5,331.2 901.0,329.9 902.5,328.6 904.0,327.2 905.5,325.9 907.0,324.5 908.5,323.0 910.0,321.6 911.5,320.1 913.0,318.6 914.5,317.1 916.0,315.6 917.5,314.1 919.0,312.5 920.5,311.0 922.0,309.4 923.5,307.8 925.0,306.3 926.5,304.7 928.0,303.1 929.5,301.5 931.0,300.0 932.5,298.4 934.0,296.8 935.5,295.3 937.0,293.7 938.5,292.2 940.0,290.7 941.5,289.2 943.0,287.8 944.5,286.3 946.0,284.9 947.5,283.5 949.0,282.2 950.5,280.9 952.0,279.6 953.5,278.4 955.0,277.2 956.5,276.1 958.0,275.0 959.5,273.9 961.0,272.9 962.5,272.0 964.0,271.1 965.5,270.3 967.0,269.5 968.5,268.8" fill="none" stroke="#c40013" stroke-width="5.0" stroke-linecap="round" stroke-linejoin="round"/>
<path d="M554.5,363.1 556.0,363.1 557.5,363.1 559.0,363.1 560.5,363.1 562.0,363.0 563.5,363.0 565.0,363.0 566.5,363.0 568.0,363.0 569.5,363.0 571.0,363.0 572.5,363.0 574.0,363.0 575.5,362.9 577.0,362.9 578.5,362.9 580.0,362.9 581.5,362.9 583.0,362.9 584.5,362.9 586.0,362.9 587.5,362.9 589.0,362.9 590.5,362.9 592.0,362.9 593.5,362.9 595.0,362.9 596.5,362.9 598.0,362.9 599.5,362.9 601.0,362.9 602.5,362.9 604.0,362.9 605.5,362.9 607.0,362.9 608.5,362.9 610.0,362.9 611.5,362.9 613.0,362.9 614.5,362.9 616.0,362.9 617.5,362.9 619.0,362.9 620.5,362.9 622.0,362.9 623.5,362.9 625.0,362.9 626.5,362.9 628.0,362.9 629.5,362.9 631.0,362.9 632.5,362.9 634.0,362.9 635.5,362.9 637.0,362.9 638.5,362.9 640.0,362.9 641.5,362.9 643.0,362.9 644.5,362.9 646.0,363.0 647.5,363.0 649.0,363.0 650.5,363.0 652.0,363.0 653.5,363.0 655.0,363.0 656.5,363.0 658.0,363.0 659.5,363.0 661.0,363.0 662.5,363.0 664.0,363.0 665.5,363.0 667.0,363.0 668.5,363.0 670.0,363.0 671.5,363.0 673.0,363.0 674.5,363.0 676.0,363.0 677.5,363.0 679.0,363.0 680.5,363.0 682.0,363.0 683.5,363.0 685.0,363.0 686.5,363.0 688.0,363.0 689.5,363.0 691.0,363.0 692.5,363.0 694.0,363.0 695.5,363.0 697.0,363.0 698.5,363.0 700.0,363.0 701.5,363.0 703.0,363.0 704.5,363.0 706.0,363.0 707.5,363.0 709.0,363.0 710.5,363.0 712.0,363.0 713.5,363.0 715.0,363.0 716.5,363.0 718.0,362.9 719.5,362.9 721.0,362.9 722.5,362.9 724.0,362.9 725.5,362.9 727.0,362.9 728.5,362.9 730.0,362.8 731.5,362.8 733.0,362.8 734.5,362.8 736.0,362.8 737.5,362.8 739.0,362.7 740.5,362.7 742.0,362.7 743.5,362.7 745.0,362.7 746.5,362.6 748.0,362.6 749.5,362.6 751.0,362.6 752.5,362.5 754.0,362.5 755.5,362.5 757.0,362.4 758.5,362.4 760.0,362.4 761.5,362.3 763.0,362.3 764.5,362.2 766.0,362.2 767.5,362.2 769.0,362.1 770.5,362.1 772.0,362.0 773.5,362.0 775.0,361.9 776.5,361.8 778.0,361.8 779.5,361.7 781.0,361.6 782.5,361.6 784.0,361.5 785.5,361.4 787.0,361.4 788.5,361.3 790.0,361.2 791.5,361.1 793.0,361.0 794.5,360.9 796.0,360.8 797.5,360.7 799.0,360.6 800.5,360.5 802.0,360.4 803.5,360.3 805.0,360.2 806.5,360.1 808.0,360.0 809.5,359.8 811.0,359.7 812.5,359.6 814.0,359.4 815.5,359.3 817.0,359.1 818.5,359.0 820.0,358.8 821.5,358.6 823.0,358.5 824.5,358.3 826.0,358.1 827.5,357.9 829.0,357.7 830.5,357.5 832.0,357.3 833.5,357.0 835.0,356.8 836.5,356.5 838.0,356.3 839.5,356.0 841.0,355.7 842.5,355.4 844.0,355.1 845.5,354.8 847.0,354.5 848.5,354.1 850.0,353.7 851.5,353.4 853.0,353.0 854.5,352.6 856.0,352.2 857.5,351.7 859.0,351.3 860.5,350.8 862.0,350.3 863.5,349.9 865.0,349.3 866.5,348.8 868.0,348.3 869.5,347.7 871.0,347.1 872.5,346.5 874.0,345.9 875.5,345.2 877.0,344.6 878.5,343.9 880.0,343.2 881.5,342.5 883.0,341.7 884.5,341.0 886.0,340.2 887.5,339.4 889.0,338.6 890.5,337.7 892.0,336.9 893.5,336.0 895.0,335.1 896.5,334.2 898.0,333.3 899.5,332.3 901.0,331.3 902.5,330.3 904.0,329.3 905.5,328.3 907.0,327.2 908.5,326.1 910.0,325.1 911.5,324.0 913.0,322.9 914.5,321.8 916.0,320.7 917.5,319.5 919.0,318.4 920.5,317.3 922.0,316.2 923.5,315.1 925.0,313.9 926.5,312.8 928.0,311.7 929.5,310.6 931.0,309.5 932.5,308.4 934.0,307.3 935.5,306.3 937.0,305.3 938.5,304.2 940.0,303.2 941.5,302.3 943.0,301.3 944.5,300.4 946.0,299.5 947.5,298.6 949.0,297.8 950.5,297.0 952.0,296.2 953.5,295.5 955.0,294.8 956.5,294.2 958.0,293.6 959.5,293.0 961.0,292.5 962.5,292.1 964.0,291.7 965.5,291.4 967.0,291.1 967.2,291.0" fill="none" stroke="#5a2480" stroke-width="5.0" stroke-linecap="round" stroke-linejoin="round"/>
<path d="M75.5,419.1 77.0,419.4 78.5,419.7 80.0,420.0 81.5,420.4 83.0,420.7 84.5,421.0 86.0,421.4 87.5,421.8 89.0,422.1 90.5,422.5 92.0,422.9 93.5,423.3 95.0,423.7 96.5,424.1 98.0,424.5 99.5,424.9 101.0,425.3 102.5,425.7 104.0,426.2 105.5,426.6 107.0,427.0 108.5,427.5 110.0,427.9 111.5,428.4 113.0,428.8 114.5,429.3 116.0,429.8 117.5,430.2 119.0,430.7 120.5,431.2 122.0,431.7 123.5,432.2 125.0,432.6 126.5,433.1 128.0,433.6 129.5,434.1 131.0,434.6 132.5,435.1 134.0,435.6 135.5,436.2 137.0,436.7 138.5,437.2 140.0,437.7 141.5,438.2 143.0,438.7 144.5,439.3 146.0,439.8 147.5,440.3 149.0,440.8 150.5,441.4 152.0,441.9 153.5,442.4 155.0,443.0 156.5,443.5 158.0,444.0 159.5,444.6 161.0,445.1 162.5,445.7 164.0,446.2 165.5,446.7 167.0,447.3 168.5,447.8 170.0,448.4 171.5,448.9 173.0,449.4 174.5,450.0 176.0,450.5 177.5,451.1 179.0,451.6 180.5,452.2 182.0,452.7 183.5,453.2 185.0,453.8 186.5,454.3 188.0,454.9 189.5,455.4 191.0,456.0 192.5,456.5 194.0,457.0 195.5,457.6 197.0,458.1 198.5,458.7 200.0,459.2 201.5,459.7 203.0,460.3 204.5,460.8 206.0,461.3 207.5,461.9 209.0,462.4 210.5,462.9 212.0,463.4 213.5,464.0 215.0,464.5 216.5,465.0 218.0,465.5 219.5,466.1 221.0,466.6 222.5,467.1 224.0,467.6 225.5,468.1 227.0,468.7 228.5,469.2 230.0,469.7 231.5,470.2 233.0,470.7 234.5,471.2 236.0,471.7 237.5,472.2 239.0,472.7 240.5,473.2 242.0,473.7 243.5,474.2 245.0,474.7 246.5,475.2 248.0,475.7 249.5,476.2 251.0,476.7 252.5,477.2 254.0,477.7 255.5,478.1 257.0,478.6 258.5,479.1 260.0,479.6 261.5,480.1 263.0,480.5 264.5,481.0 266.0,481.5 267.5,482.0 269.0,482.4 270.5,482.9 272.0,483.4 273.5,483.8 275.0,484.3 276.5,484.8 278.0,485.2 279.5,485.7 281.0,486.2 282.5,486.6 284.0,487.1 285.5,487.5 287.0,488.0 288.5,488.4 290.0,488.9 291.5,489.3 293.0,489.8 294.5,490.2 296.0,490.7 297.5,491.1 299.0,491.6 300.5,492.0 302.0,492.5 303.5,492.9 305.0,493.4 306.5,493.8 308.0,494.2 309.5,494.7 311.0,495.1 312.5,495.6 314.0,496.0 315.5,496.5 317.0,496.9 318.5,497.3 320.0,497.8 321.5,498.2 323.0,498.7 324.5,499.1 326.0,499.5 327.5,500.0 329.0,500.4 330.5,500.9 332.0,501.3 333.5,501.8 335.0,502.2 336.5,502.7 338.0,503.1 339.5,503.6 341.0,504.0 342.5,504.5 344.0,504.9 345.5,505.4 347.0,505.8 348.5,506.3 350.0,506.7 351.5,507.2 353.0,507.7 354.5,508.1 356.0,508.6 357.5,509.1 359.0,509.5 360.5,510.0 362.0,510.5 363.5,510.9 365.0,511.4 366.5,511.9 368.0,512.4 369.5,512.9 371.0,513.4 372.5,513.9 374.0,514.4 375.5,514.9 377.0,515.4 378.5,515.9 380.0,516.4 381.5,516.9 383.0,517.5 384.5,518.0 386.0,518.5 387.5,519.1 389.0,519.6 390.5,520.1 392.0,520.7 393.5,521.3 395.0,521.8 396.5,522.4 398.0,523.0 399.5,523.5 401.0,524.1 402.5,524.7 404.0,525.3 405.5,525.9 407.0,526.5 408.5,527.1 410.0,527.8 411.5,528.4 413.0,529.0 414.5,529.7 416.0,530.3 417.5,531.0 419.0,531.7 420.5,532.3 422.0,533.0 423.5,533.7 425.0,534.4 426.5,535.1 428.0,535.8 429.5,536.6 431.0,537.3 432.5,538.0 434.0,538.8 435.5,539.6 437.0,540.3 438.5,541.1 440.0,541.9 441.5,542.7 443.0,543.6 444.5,544.4 446.0,545.2 447.5,546.1 449.0,546.9 450.5,547.8 452.0,548.7 453.5,549.6 455.0,550.5 456.5,551.4 458.0,552.4 459.5,553.3 461.0,554.3 462.5,555.2 464.0,556.2 465.5,557.2 467.0,558.2 468.5,559.3 470.0,560.3 471.5,561.4 473.0,562.4 474.5,563.5 476.0,564.6 477.5,565.7 479.0,566.9 480.5,568.0 482.0,569.2 483.5,570.4 485.0,571.6 486.5,572.8 488.0,574.0 489.5,575.3 490.1,575.8" fill="none" stroke="#c40013" stroke-width="5.0" stroke-linecap="round" stroke-linejoin="round"/>
<path d="M76.5,419.5 78.0,419.9 79.5,420.3 81.0,420.7 82.5,421.1 84.0,421.5 85.5,421.8 87.0,422.2 88.5,422.6 90.0,423.0 91.5,423.5 93.0,423.9 94.5,424.3 96.0,424.7 97.5,425.1 99.0,425.5 100.5,426.0 102.0,426.4 103.5,426.8 105.0,427.2 106.5,427.7 108.0,428.1 109.5,428.6 111.0,429.0 112.5,429.4 114.0,429.9 115.5,430.3 117.0,430.8 118.5,431.2 120.0,431.7 121.5,432.2 123.0,432.6 124.5,433.1 126.0,433.5 127.5,434.0 129.0,434.5 130.5,434.9 132.0,435.4 133.5,435.9 135.0,436.3 136.5,436.8 138.0,437.3 139.5,437.8 141.0,438.2 142.5,438.7 144.0,439.2 145.5,439.7 147.0,440.2 148.5,440.6 150.0,441.1 151.5,441.6 153.0,442.1 154.5,442.6 156.0,443.1 157.5,443.6 159.0,444.0 160.5,444.5 162.0,445.0 163.5,445.5 165.0,446.0 166.5,446.5 168.0,447.0 169.5,447.5 171.0,447.9 172.5,448.4 174.0,448.9 175.5,449.4 177.0,449.9 178.5,450.4 180.0,450.9 181.5,451.4 183.0,451.9 184.5,452.4 186.0,452.9 187.5,453.3 189.0,453.8 190.5,454.3 192.0,454.8 193.5,455.3 195.0,455.8 196.5,456.3 198.0,456.8 199.5,457.3 201.0,457.7 202.5,458.2 204.0,458.7 205.5,459.2 207.0,459.7 208.5,460.2 210.0,460.7 211.5,461.2 213.0,461.6 214.5,462.1 216.0,462.6 217.5,463.1 219.0,463.6 220.5,464.1 222.0,464.5 223.5,465.0 225.0,465.5 226.5,466.0 228.0,466.5 229.5,466.9 231.0,467.4 232.5,467.9 234.0,468.4 235.5,468.8 237.0,469.3 238.5,469.8 240.0,470.3 241.5,470.7 243.0,471.2 244.5,471.7 246.0,472.2 247.5,472.6 249.0,473.1 250.5,473.6 252.0,474.0 253.5,474.5 255.0,475.0 256.5,475.4 258.0,475.9 259.5,476.4 261.0,476.8 262.5,477.3 264.0,477.7 265.5,478.2 267.0,478.7 268.5,479.1 270.0,479.6 271.5,480.0 273.0,480.5 274.5,481.0 276.0,481.4 277.5,481.9 279.0,482.3 280.5,482.8 282.0,483.3 283.5,483.7 285.0,484.2 286.5,484.6 288.0,485.1 289.5,485.5 291.0,486.0 292.5,486.4 294.0,486.9 295.5,487.3 297.0,487.8 298.5,488.2 300.0,488.7 301.5,489.1 303.0,489.6 304.5,490.0 306.0,490.5 307.5,490.9 309.0,491.4 310.5,491.8 312.0,492.3 313.5,492.7 315.0,493.2 316.5,493.6 318.0,494.1 319.5,494.5 321.0,495.0 322.5,495.4 324.0,495.9 325.5,496.4 327.0,496.8 328.5,497.3 330.0,497.7 331.5,498.2 333.0,498.6 334.5,499.1 336.0,499.5 337.5,500.0 339.0,500.4 340.5,500.9 342.0,501.4 343.5,501.8 345.0,502.3 346.5,502.7 348.0,503.2 349.5,503.7 351.0,504.1 352.5,504.6 354.0,505.1 355.5,505.5 357.0,506.0 358.5,506.5 360.0,506.9 361.5,507.4 363.0,507.9 364.5,508.4 366.0,508.8 367.5,509.3 369.0,509.8 370.5,510.3 372.0,510.8 373.5,511.3 375.0,511.7 376.5,512.2 378.0,512.7 379.5,513.2 381.0,513.7 382.5,514.2 384.0,514.7 385.5,515.2 387.0,515.7 388.5,516.2 390.0,516.8 391.5,517.3 393.0,517.8 394.5,518.3 396.0,518.8 397.5,519.4 399.0,519.9 400.5,520.4 402.0,521.0 403.5,521.5 405.0,522.0 406.5,522.6 408.0,523.1 409.5,523.7 411.0,524.3 412.5,524.8 414.0,525.4 415.5,526.0 417.0,526.5 418.5,527.1 420.0,527.7 421.5,528.3 423.0,528.9 424.5,529.5 426.0,530.1 427.5,530.7 429.0,531.3 430.5,531.9 432.0,532.5 433.5,533.1 435.0,533.8 436.5,534.4 438.0,535.0 439.5,535.7 441.0,536.3 442.5,537.0 444.0,537.6 445.5,538.3 447.0,539.0 448.5,539.7 450.0,540.4 451.5,541.0 453.0,541.7 454.5,542.5 456.0,543.2 457.5,543.9 459.0,544.6 460.5,545.3 462.0,546.1 463.5,546.8 465.0,547.6 466.5,548.3 468.0,549.1 469.5,549.9 471.0,550.7 472.5,551.4 474.0,552.2 475.5,553.1 477.0,553.9 478.5,554.7 480.0,555.5 481.5,556.4 483.0,557.2 484.5,558.1 486.0,558.9 487.5,559.8 489.0,560.7 490.5,561.6 492.0,562.5" fill="none" stroke="#5a2480" stroke-width="5.0" stroke-linecap="round" stroke-linejoin="round"/>
<path d="M76.0,726.2 77.5,726.2 79.0,726.2 80.5,726.2 82.0,726.2 83.5,726.2 85.0,726.2 86.5,726.2 88.0,726.2 89.5,726.2 91.0,726.2 92.5,726.2 94.0,726.2 95.5,726.2 97.0,726.2 98.5,726.2 100.0,726.2 101.5,726.2 103.0,726.2 104.5,726.2 106.0,726.2 107.5,726.2 109.0,726.2 110.5,726.2 112.0,726.2 113.5,726.2 115.0,726.2 116.5,726.2 118.0,726.2 119.5,726.2 121.0,726.2 122.5,726.2 124.0,726.2 125.5,726.2 127.0,726.2 128.5,726.2 130.0,726.2 131.5,726.2 133.0,726.2 134.5,726.2 136.0,726.2 137.5,726.2 139.0,726.2 140.5,726.2 142.0,726.2 143.5,726.2 145.0,726.2 146.5,726.2 148.0,726.1 149.5,726.1 151.0,726.1 152.5,726.1 154.0,726.1 155.5,726.1 157.0,726.1 158.5,726.1 160.0,726.1 161.5,726.1 163.0,726.1 164.5,726.1 166.0,726.1 167.5,726.1 169.0,726.1 170.5,726.1 172.0,726.1 173.5,726.1 175.0,726.1 176.5,726.1 178.0,726.1 179.5,726.1 181.0,726.1 182.5,726.1 184.0,726.1 185.5,726.1 187.0,726.1 188.5,726.1 190.0,726.1 191.5,726.1 193.0,726.1 194.5,726.0 196.0,726.0 197.5,726.0 199.0,726.0 200.5,726.0 202.0,726.0 203.5,726.0 205.0,726.0 206.5,726.0 208.0,726.0 209.5,726.0 211.0,726.0 212.5,726.0 214.0,726.0 215.5,725.9 217.0,725.9 218.5,725.9 220.0,725.9 221.5,725.9 223.0,725.9 224.5,725.9 226.0,725.9 227.5,725.9 229.0,725.9 230.5,725.8 232.0,725.8 233.5,725.8 235.0,725.8 236.5,725.8 238.0,725.8 239.5,725.8 241.0,725.7 242.5,725.7 244.0,725.7 245.5,725.7 247.0,725.7 248.5,725.7 250.0,725.7 251.5,725.6 253.0,725.6 254.5,725.6 256.0,725.6 257.5,725.6 259.0,725.6 260.5,725.5 262.0,725.5 263.5,725.5 265.0,725.5 266.5,725.5 268.0,725.4 269.5,725.4 271.0,725.4 272.5,725.4 274.0,725.3 275.5,725.3 277.0,725.3 278.5,725.2 280.0,725.2 281.5,725.2 283.0,725.1 284.5,725.1 286.0,725.0 287.5,725.0 289.0,724.9 290.5,724.9 292.0,724.8 293.5,724.7 295.0,724.7 296.5,724.6 298.0,724.5 299.5,724.4 301.0,724.3 302.5,724.2 304.0,724.1 305.5,724.0 307.0,723.9 308.5,723.8 310.0,723.7 311.5,723.6 313.0,723.4 314.5,723.3 316.0,723.1 317.5,723.0 319.0,722.8 320.5,722.6 322.0,722.4 323.5,722.3 325.0,722.1 326.5,721.8 328.0,721.6 329.5,721.4 331.0,721.2 332.5,720.9 334.0,720.7 335.5,720.4 337.0,720.2 338.5,719.9 340.0,719.6 341.5,719.3 343.0,719.0 344.5,718.6 346.0,718.3 347.5,718.0 349.0,717.6 350.5,717.3 352.0,716.9 353.5,716.5 355.0,716.1 356.5,715.7 358.0,715.2 359.5,714.8 361.0,714.3 362.5,713.9 364.0,713.4 365.5,712.9 367.0,712.4 368.5,711.9 370.0,711.3 371.5,710.7 373.0,710.1 374.5,709.5 376.0,708.9 377.5,708.2 379.0,707.5 380.5,706.7 382.0,705.9 383.5,705.1 385.0,704.3 386.5,703.4 388.0,702.5 389.5,701.5 391.0,700.5 392.5,699.5 394.0,698.4 395.5,697.3 397.0,696.1 398.5,695.0 400.0,693.7 401.5,692.5 403.0,691.2 404.5,689.8 406.0,688.5 407.5,687.0 409.0,685.6 410.5,684.1 412.0,682.6 413.5,681.0 415.0,679.5 416.5,677.9 418.0,676.2 419.5,674.6 421.0,672.9 422.5,671.2 424.0,669.6 425.5,667.9 427.0,666.2 428.5,664.5 430.0,662.8 431.5,661.1 433.0,659.4 434.5,657.7 436.0,656.1 437.5,654.4 439.0,652.8 440.5,651.2 442.0,649.6 443.5,648.1 445.0,646.6 446.5,645.1 455.5,638.4 464.5,635.6 473.4,639.4 481.5,652.0 490.0,688.0" fill="none" stroke="#c40013" stroke-width="5.0" stroke-linecap="round" stroke-linejoin="round"/>
<path d="M76.0,726.3 77.5,726.3 79.0,726.2 80.5,726.2 82.0,726.2 83.5,726.1 85.0,726.1 86.5,726.1 88.0,726.0 89.5,726.0 91.0,726.0 92.5,725.9 94.0,725.9 95.5,725.9 97.0,725.9 98.5,725.8 100.0,725.8 101.5,725.8 103.0,725.8 104.5,725.8 106.0,725.7 107.5,725.7 109.0,725.7 110.5,725.7 112.0,725.7 113.5,725.7 115.0,725.7 116.5,725.7 118.0,725.6 119.5,725.6 121.0,725.6 122.5,725.6 124.0,725.6 125.5,725.6 127.0,725.6 128.5,725.6 130.0,725.6 131.5,725.6 133.0,725.6 134.5,725.6 136.0,725.6 137.5,725.6 139.0,725.6 140.5,725.6 142.0,725.6 143.5,725.6 145.0,725.6 146.5,725.6 148.0,725.6 149.5,725.6 151.0,725.6 152.5,725.6 154.0,725.6 155.5,725.6 157.0,725.6 158.5,725.6 160.0,725.6 161.5,725.6 163.0,725.7 164.5,725.7 166.0,725.7 167.5,725.7 169.0,725.7 170.5,725.7 172.0,725.7 173.5,725.7 175.0,725.7 176.5,725.7 178.0,725.7 179.5,725.7 181.0,725.7 182.5,725.7 184.0,725.7 185.5,725.7 187.0,725.7 188.5,725.7 190.0,725.7 191.5,725.7 193.0,725.7 194.5,725.7 196.0,725.7 197.5,725.7 199.0,725.7 200.5,725.7 202.0,725.7 203.5,725.7 205.0,725.7 206.5,725.7 208.0,725.7 209.5,725.7 211.0,725.7 212.5,725.7 214.0,725.7 215.5,725.7 217.0,725.7 218.5,725.6 220.0,725.6 221.5,725.6 223.0,725.6 224.5,725.6 226.0,725.6 227.5,725.6 229.0,725.5 230.5,725.5 232.0,725.5 233.5,725.5 235.0,725.5 236.5,725.4 238.0,725.4 239.5,725.4 241.0,725.4 242.5,725.3 244.0,725.3 245.5,725.3 247.0,725.2 248.5,725.2 250.0,725.2 251.5,725.1 253.0,725.1 254.5,725.0 256.0,725.0 257.5,724.9 259.0,724.9 260.5,724.9 262.0,724.8 263.5,724.7 265.0,724.7 266.5,724.6 268.0,724.6 269.5,724.5 271.0,724.5 272.5,724.4 274.0,724.3 275.5,724.3 277.0,724.2 278.5,724.1 280.0,724.1 281.5,724.0 283.0,723.9 284.5,723.8 286.0,723.8 287.5,723.7 289.0,723.6 290.5,723.5 292.0,723.4 293.5,723.3 295.0,723.2 296.5,723.1 298.0,723.0 299.5,722.9 301.0,722.8 302.5,722.7 304.0,722.6 305.5,722.5 307.0,722.4 308.5,722.3 310.0,722.1 311.5,722.0 313.0,721.9 314.5,721.7 316.0,721.6 317.5,721.4 319.0,721.3 320.5,721.1 322.0,721.0 323.5,720.8 325.0,720.6 326.5,720.4 328.0,720.2 329.5,720.0 331.0,719.8 332.5,719.6 334.0,719.3 335.5,719.1 337.0,718.8 338.5,718.6 340.0,718.3 341.5,718.0 343.0,717.7 344.5,717.4 346.0,717.1 347.5,716.8 349.0,716.4 350.5,716.1 352.0,715.7 353.5,715.3 355.0,714.9 356.5,714.5 358.0,714.1 359.5,713.7 361.0,713.2 362.5,712.7 364.0,712.2 365.5,711.7 367.0,711.1 368.5,710.6 370.0,710.0 371.5,709.3 373.0,708.7 374.5,708.0 376.0,707.3 377.5,706.6 379.0,705.9 380.5,705.1 382.0,704.3 383.5,703.4 385.0,702.5 386.5,701.6 388.0,700.7 389.5,699.7 391.0,698.7 392.5,697.6 394.0,696.5 395.5,695.4 397.0,694.2 398.5,693.0 400.0,691.8 401.5,690.5 403.0,689.1 404.5,687.8 406.0,686.4 407.5,684.9 409.0,683.4 410.5,681.9 412.0,680.3 413.5,678.7 415.0,677.1 416.5,675.4 418.0,673.7 419.5,671.9 421.0,670.1 422.5,668.3 424.0,666.5 425.5,664.5 427.0,662.6 428.5,660.6 430.0,658.6 431.5,656.6 433.0,654.5 434.5,652.4 436.0,650.2 437.5,648.0 439.0,645.8 440.5,643.6 442.0,641.3 443.5,639.0 445.0,636.7 446.5,634.4 448.0,632.1 449.5,629.9 451.0,627.6 452.5,625.4 454.0,623.2 455.5,621.1 457.0,618.9 458.5,616.9 460.0,614.9 461.5,613.0 463.0,611.1 464.5,609.4 466.0,607.7 467.5,606.1 469.0,604.5 470.5,603.1 472.0,601.6 473.5,600.3 475.0,598.9 476.5,597.6 478.0,596.3 479.5,595.1 481.0,593.8 482.5,592.5 484.0,591.2 485.5,589.9 487.0,588.5 488.5,587.2 488.6,587.1" fill="none" stroke="#5a2480" stroke-width="5.0" stroke-linecap="round" stroke-linejoin="round"/>
<path d="M554.5,443.3 556.0,443.3 557.5,443.3 559.0,443.3 560.5,443.3 562.0,443.3 563.5,443.3 565.0,443.3 566.5,443.3 568.0,443.3 569.5,443.3 571.0,443.3 572.5,443.3 574.0,443.3 575.5,443.3 577.0,443.3 578.5,443.3 580.0,443.3 581.5,443.3 583.0,443.3 584.5,443.3 586.0,443.3 587.5,443.3 589.0,443.3 590.5,443.3 592.0,443.3 593.5,443.3 595.0,443.3 596.5,443.3 598.0,443.3 599.5,443.3 601.0,443.3 602.5,443.3 604.0,443.2 605.5,443.2 607.0,443.2 608.5,443.2 610.0,443.2 611.5,443.2 613.0,443.2 614.5,443.2 616.0,443.2 617.5,443.2 619.0,443.2 620.5,443.2 622.0,443.2 623.5,443.2 625.0,443.2 626.5,443.2 628.0,443.2 629.5,443.2 631.0,443.2 632.5,443.2 634.0,443.2 635.5,443.2 637.0,443.2 638.5,443.2 640.0,443.2 641.5,443.2 643.0,443.2 644.5,443.2 646.0,443.2 647.5,443.2 649.0,443.2 650.5,443.2 652.0,443.2 653.5,443.2 655.0,443.2 656.5,443.2 658.0,443.2 659.5,443.2 661.0,443.2 662.5,443.2 664.0,443.2 665.5,443.2 667.0,443.2 668.5,443.2 670.0,443.2 671.5,443.2 673.0,443.2 674.5,443.2 676.0,443.2 677.5,443.2 679.0,443.2 680.5,443.2 682.0,443.2 683.5,443.2 685.0,443.2 686.5,443.2 688.0,443.1 689.5,443.1 691.0,443.1 692.5,443.1 694.0,443.1 695.5,443.1 697.0,443.1 698.5,443.1 700.0,443.1 701.5,443.1 703.0,443.1 704.5,443.1 706.0,443.1 707.5,443.1 709.0,443.1 710.5,443.1 712.0,443.1 713.5,443.1 715.0,443.1 716.5,443.1 718.0,443.1 719.5,443.1 721.0,443.1 722.5,443.1 724.0,443.1 725.5,443.1 727.0,443.1 728.5,443.1 730.0,443.1 731.5,443.1 733.0,443.1 734.5,443.1 736.0,443.1 737.5,443.1 739.0,443.1 740.5,443.1 742.0,443.1 743.5,443.1 745.0,443.1 746.5,443.1 748.0,443.1 749.5,443.1 751.0,443.1 752.5,443.1 754.0,443.1 755.5,443.1 757.0,443.1 758.5,443.1 760.0,443.1 761.5,443.1 763.0,443.1 764.5,443.1 766.0,443.1 767.5,443.1 769.0,443.1 770.5,443.1 772.0,443.1 773.5,443.1 775.0,443.1 776.5,443.1 778.0,443.1 779.5,443.1 781.0,443.1 782.5,443.1 784.0,443.1 785.5,443.1 787.0,443.1 788.5,443.1 790.0,443.1 791.5,443.1 793.0,443.1 794.5,443.1 796.0,443.1 797.5,443.1 799.0,443.1 800.5,443.1 802.0,443.1 803.5,443.1 805.0,443.1 806.5,443.1 808.0,443.1 809.5,443.1 811.0,443.1 812.5,443.1 814.0,443.1 815.5,443.1 817.0,443.1 818.5,443.1 820.0,443.1 821.5,443.1 823.0,443.1 824.5,443.2 826.0,443.2 827.5,443.2 829.0,443.2 830.5,443.2 832.0,443.3 833.5,443.3 835.0,443.3 836.5,443.4 838.0,443.4 839.5,443.4 841.0,443.5 842.5,443.5 844.0,443.6 845.5,443.6 847.0,443.7 848.5,443.7 850.0,443.8 851.5,443.8 853.0,443.9 854.5,444.0 856.0,444.1 857.5,444.3 859.0,444.5 860.5,444.7 862.0,445.0 863.5,445.2 865.0,445.5 866.5,445.8 868.0,446.0 869.5,446.3 871.0,446.6 872.5,446.9 874.0,447.1 875.5,447.4 877.0,447.7 878.5,447.9 880.0,448.2 881.5,448.4 883.0,448.7 884.5,449.0 886.0,449.3 887.5,449.6 889.0,450.0 890.5,450.3 892.0,450.8 893.5,451.2 895.0,451.8 896.5,452.3 898.0,452.9 899.5,453.6 901.0,454.3 902.5,455.1 904.0,455.9 905.5,456.8 907.0,457.8 908.5,458.9 910.0,460.1 911.5,461.5 913.0,462.9 914.5,464.2 916.0,465.4 917.5,466.4 919.0,467.4 920.5,468.4 922.0,469.3 923.5,470.2 925.0,471.1 926.5,472.1 928.0,473.0 929.5,473.9 931.0,474.7 932.5,475.4 934.0,476.0 935.5,476.6 937.0,477.2 938.5,477.7 940.0,478.1 941.5,478.3 943.0,478.2 944.5,478.0 946.0,477.7 947.5,477.2 949.0,476.7 950.5,476.1 952.0,475.4 953.5,474.4 955.0,473.2 956.5,471.9 958.0,470.4 959.5,468.9 961.0,467.1 962.5,465.0 964.0,462.9 965.5,460.8 967.0,458.7 968.5,456.5 968.7,456.2" fill="none" stroke="#c40013" stroke-width="5.0" stroke-linecap="round" stroke-linejoin="round"/>
<path d="M554.5,571.3 556.0,571.3 557.5,571.3 559.0,571.3 560.5,571.3 562.0,571.3 563.5,571.3 565.0,571.3 566.5,571.3 568.0,571.3 569.5,571.3 571.0,571.3 572.5,571.3 574.0,571.3 575.5,571.3 577.0,571.3 578.5,571.3 580.0,571.3 581.5,571.3 583.0,571.3 584.5,571.3 586.0,571.3 587.5,571.3 589.0,571.3 590.5,571.3 592.0,571.3 593.5,571.3 595.0,571.3 596.5,571.3 598.0,571.3 599.5,571.3 601.0,571.3 602.5,571.3 604.0,571.2 605.5,571.2 607.0,571.2 608.5,571.2 610.0,571.2 611.5,571.2 613.0,571.2 614.5,571.2 616.0,571.2 617.5,571.2 619.0,571.2 620.5,571.2 622.0,571.2 623.5,571.2 625.0,571.2 626.5,571.2 628.0,571.2 629.5,571.2 631.0,571.2 632.5,571.2 634.0,571.2 635.5,571.2 637.0,571.2 638.5,571.2 640.0,571.2 641.5,571.2 643.0,571.2 644.5,571.2 646.0,571.2 647.5,571.2 649.0,571.2 650.5,571.2 652.0,571.2 653.5,571.2 655.0,571.2 656.5,571.2 658.0,571.2 659.5,571.2 661.0,571.2 662.5,571.2 664.0,571.2 665.5,571.2 667.0,571.2 668.5,571.2 670.0,571.2 671.5,571.2 673.0,571.2 674.5,571.2 676.0,571.2 677.5,571.2 679.0,571.2 680.5,571.2 682.0,571.2 683.5,571.2 685.0,571.2 686.5,571.2 688.0,571.2 689.5,571.2 691.0,571.2 692.5,571.2 694.0,571.2 695.5,571.2 697.0,571.2 698.5,571.2 700.0,571.2 701.5,571.2 703.0,571.2 704.5,571.2 706.0,571.2 707.5,571.2 709.0,571.2 710.5,571.1 712.0,571.1 713.5,571.1 715.0,571.1 716.5,571.1 718.0,571.1 719.5,571.1 721.0,571.1 722.5,571.1 724.0,571.1 725.5,571.1 727.0,571.1 728.5,571.1 730.0,571.1 731.5,571.1 733.0,571.1 734.5,571.1 736.0,571.1 737.5,571.1 739.0,571.1 740.5,571.1 742.0,571.1 743.5,571.1 745.0,571.1 746.5,571.1 748.0,571.1 749.5,571.0 751.0,571.0 752.5,571.0 754.0,571.0 755.5,571.0 757.0,570.9 758.5,570.9 760.0,570.9 761.5,570.9 763.0,570.8 764.5,570.8 766.0,570.8 767.5,570.7 769.0,570.7 770.5,570.7 772.0,570.6 773.5,570.6 775.0,570.5 776.5,570.5 778.0,570.5 779.5,570.4 781.0,570.4 782.5,570.3 784.0,570.3 785.5,570.2 787.0,570.2 788.5,570.1 790.0,570.1 791.5,570.0 793.0,570.0 794.5,569.9 796.0,569.8 797.5,569.7 799.0,569.6 800.5,569.5 802.0,569.4 803.5,569.3 805.0,569.2 806.5,569.0 808.0,568.9 809.5,568.7 811.0,568.6 812.5,568.4 814.0,568.2 815.5,568.0 817.0,567.8 818.5,567.5 820.0,567.2 821.5,566.9 823.0,566.6 824.5,566.2 826.0,565.8 827.5,565.3 829.0,564.9 830.5,564.4 832.0,563.9 833.5,563.3 835.0,562.8 836.5,562.1 838.0,561.4 839.5,560.6 841.0,559.8 842.5,558.9 844.0,557.9 845.5,556.9 847.0,555.9 848.5,554.8 850.0,553.7 851.5,552.5 853.0,551.1 854.5,549.7 856.0,548.2 857.5,546.7 859.0,545.0 860.5,543.4 862.0,541.6 863.5,539.8 865.0,537.9 866.5,535.9 868.0,533.8 869.5,531.6 871.0,529.3 872.5,526.9 874.0,524.5 875.5,522.0 877.0,519.6 878.5,517.0 880.0,514.5 881.5,511.8 883.0,509.1 884.5,506.3 886.0,503.5 887.5,500.5 889.0,497.4 890.5,494.1 892.0,490.7 893.5,487.4 895.0,484.3 896.5,481.2 898.0,478.5 899.5,476.2 901.0,474.1 902.5,472.1 904.0,470.4 905.5,468.8 907.0,467.4 908.5,466.2 910.0,465.1 911.5,464.0 913.0,463.1 914.5,462.4 916.0,462.0 917.5,461.7 919.0,461.4 920.5,461.1 922.0,461.0 923.5,461.0 925.0,461.2 926.5,461.6 928.0,462.2 929.5,462.8 931.0,463.5 932.5,464.2 934.0,464.9 935.5,465.8 937.0,466.8 938.5,467.8 940.0,468.9 941.5,469.9 943.0,470.8 944.5,471.7 946.0,472.5 947.5,473.4 949.0,474.1 950.5,474.8 952.0,475.4 953.5,476.1 955.0,476.6 956.5,476.9 958.0,477.0 959.5,477.0 961.0,477.0 962.5,476.9 964.0,476.7 965.5,476.5 967.0,476.1" fill="none" stroke="#5a2480" stroke-width="5.0" stroke-linecap="round" stroke-linejoin="round"/>
<path d="M554.5,726.2 556.0,726.2 557.5,726.2 559.0,726.2 560.5,726.2 562.0,726.2 563.5,726.2 565.0,726.2 566.5,726.2 568.0,726.2 569.5,726.2 571.0,726.2 572.5,726.2 574.0,726.2 575.5,726.2 577.0,726.2 578.5,726.2 580.0,726.2 581.5,726.2 583.0,726.2 584.5,726.2 586.0,726.2 587.5,726.2 589.0,726.2 590.5,726.2 592.0,726.2 593.5,726.2 595.0,726.2 596.5,726.2 598.0,726.2 599.5,726.2 601.0,726.2 602.5,726.2 604.0,726.2 605.5,726.2 607.0,726.2 608.5,726.2 610.0,726.2 611.5,726.2 613.0,726.2 614.5,726.2 616.0,726.2 617.5,726.2 619.0,726.2 620.5,726.2 622.0,726.2 623.5,726.2 625.0,726.2 626.5,726.2 628.0,726.2 629.5,726.2 631.0,726.2 632.5,726.2 634.0,726.2 635.5,726.2 637.0,726.2 638.5,726.2 640.0,726.1 641.5,726.1 643.0,726.1 644.5,726.1 646.0,726.1 647.5,726.1 649.0,726.1 650.5,726.1 652.0,726.1 653.5,726.1 655.0,726.1 656.5,726.1 658.0,726.0 659.5,726.0 661.0,726.0 662.5,726.0 664.0,726.0 665.5,726.0 667.0,726.0 668.5,726.0 670.0,726.0 671.5,725.9 673.0,725.9 674.5,725.9 676.0,725.9 677.5,725.9 679.0,725.9 680.5,725.9 682.0,725.8 683.5,725.8 685.0,725.8 686.5,725.8 688.0,725.8 689.5,725.8 691.0,725.8 692.5,725.7 694.0,725.7 695.5,725.7 697.0,725.7 698.5,725.7 700.0,725.7 701.5,725.6 703.0,725.6 704.5,725.6 706.0,725.6 707.5,725.6 709.0,725.5 710.5,725.5 712.0,725.5 713.5,725.5 715.0,725.4 716.5,725.4 718.0,725.4 719.5,725.4 721.0,725.4 722.5,725.3 724.0,725.3 725.5,725.3 727.0,725.3 728.5,725.2 730.0,725.2 731.5,725.2 733.0,725.2 734.5,725.1 736.0,725.1 737.5,725.1 739.0,725.1 740.5,725.0 742.0,725.0 743.5,725.0 745.0,724.9 746.5,724.9 748.0,724.9 749.5,724.8 751.0,724.8 752.5,724.8 754.0,724.8 755.5,724.7 757.0,724.7 758.5,724.7 760.0,724.6 761.5,724.6 763.0,724.5 764.5,724.5 766.0,724.5 767.5,724.4 769.0,724.4 770.5,724.3 772.0,724.3 773.5,724.3 775.0,724.2 776.5,724.2 778.0,724.1 779.5,724.1 781.0,724.0 782.5,723.9 784.0,723.9 785.5,723.8 787.0,723.8 788.5,723.7 790.0,723.6 791.5,723.5 793.0,723.5 794.5,723.4 796.0,723.3 797.5,723.2 799.0,723.1 800.5,723.0 802.0,722.9 803.5,722.8 805.0,722.7 806.5,722.6 808.0,722.5 809.5,722.4 811.0,722.3 812.5,722.2 814.0,722.0 815.5,721.9 817.0,721.8 818.5,721.6 820.0,721.5 821.5,721.3 823.0,721.2 824.5,721.0 826.0,720.9 827.5,720.7 829.0,720.5 830.5,720.3 832.0,720.1 833.5,720.0 835.0,719.8 836.5,719.6 838.0,719.4 839.5,719.1 841.0,718.9 842.5,718.7 844.0,718.5 845.5,718.2 847.0,718.0 848.5,717.7 850.0,717.5 851.5,717.2 853.0,716.9 854.5,716.6 856.0,716.3 857.5,716.0 859.0,715.7 860.5,715.3 862.0,714.9 863.5,714.5 865.0,714.1 866.5,713.7 868.0,713.2 869.5,712.7 871.0,712.2 872.5,711.6 874.0,711.1 875.5,710.5 877.0,709.8 878.5,709.1 880.0,708.4 881.5,707.7 883.0,706.9 884.5,706.1 886.0,705.2 887.5,704.3 889.0,703.4 890.5,702.4 892.0,701.4 893.5,700.4 895.0,699.3 896.5,698.2 898.0,697.1 899.5,695.9 901.0,694.7 902.5,693.5 904.0,692.3 905.5,691.1 907.0,689.8 908.5,688.5 910.0,687.2 911.5,685.9 913.0,684.6 914.5,683.3 916.0,681.9 917.5,680.6 919.0,679.2 920.5,677.8 922.0,676.5 923.5,675.1 925.0,673.7 926.5,672.4 928.0,671.0 929.5,669.6 931.0,668.3 932.5,666.9 934.0,665.6 935.5,664.3 937.0,662.9 938.5,661.6 940.0,660.3 941.5,659.1 943.0,657.8 944.5,656.6 946.0,655.4 947.5,654.2 949.0,653.0 950.5,651.9 952.0,650.7 953.5,649.6 955.0,648.6 956.5,647.6 958.0,646.6 959.5,645.6 961.0,644.7 962.5,643.8 964.0,642.9 965.5,642.1 967.0,641.4 968.5,640.6 969.3,640.3" fill="none" stroke="#c40013" stroke-width="5.0" stroke-linecap="round" stroke-linejoin="round"/>
<path d="M554.5,637.3 556.0,637.4 557.5,637.4 559.0,637.4 560.5,637.4 562.0,637.4 563.5,637.4 565.0,637.4 566.5,637.4 568.0,637.4 569.5,637.4 571.0,637.4 572.5,637.4 574.0,637.4 575.5,637.4 577.0,637.4 578.5,637.4 580.0,637.4 581.5,637.4 583.0,637.4 584.5,637.4 586.0,637.4 587.5,637.4 589.0,637.4 590.5,637.4 592.0,637.4 593.5,637.4 595.0,637.4 596.5,637.4 598.0,637.4 599.5,637.4 601.0,637.4 602.5,637.4 604.0,637.4 605.5,637.4 607.0,637.4 608.5,637.4 610.0,637.4 611.5,637.4 613.0,637.4 614.5,637.4 616.0,637.5 617.5,637.5 619.0,637.5 620.5,637.5 622.0,637.5 623.5,637.5 625.0,637.5 626.5,637.5 628.0,637.5 629.5,637.5 631.0,637.5 632.5,637.5 634.0,637.5 635.5,637.5 637.0,637.5 638.5,637.5 640.0,637.5 641.5,637.5 643.0,637.5 644.5,637.5 646.0,637.5 647.5,637.5 649.0,637.5 650.5,637.4 652.0,637.4 653.5,637.4 655.0,637.4 656.5,637.4 658.0,637.4 659.5,637.4 661.0,637.4 662.5,637.4 664.0,637.4 665.5,637.4 667.0,637.4 668.5,637.4 670.0,637.4 671.5,637.4 673.0,637.4 674.5,637.4 676.0,637.4 677.5,637.4 679.0,637.4 680.5,637.4 682.0,637.4 683.5,637.4 685.0,637.4 686.5,637.4 688.0,637.4 689.5,637.4 691.0,637.4 692.5,637.4 694.0,637.4 695.5,637.4 697.0,637.3 698.5,637.3 700.0,637.3 701.5,637.3 703.0,637.3 704.5,637.3 706.0,637.3 707.5,637.3 709.0,637.3 710.5,637.3 712.0,637.3 713.5,637.3 715.0,637.3 716.5,637.3 718.0,637.3 719.5,637.2 721.0,637.2 722.5,637.2 724.0,637.2 725.5,637.2 727.0,637.2 728.5,637.2 730.0,637.2 731.5,637.2 733.0,637.2 734.5,637.2 736.0,637.1 737.5,637.1 739.0,637.1 740.5,637.1 742.0,637.1 743.5,637.1 745.0,637.1 746.5,637.1 748.0,637.1 749.5,637.1 751.0,637.0 752.5,637.0 754.0,637.0 755.5,637.0 757.0,637.0 758.5,637.0 760.0,637.0 761.5,637.0 763.0,636.9 764.5,636.9 766.0,636.9 767.5,636.9 769.0,636.9 770.5,636.9 772.0,636.9 773.5,636.8 775.0,636.8 776.5,636.8 778.0,636.8 779.5,636.8 781.0,636.7 782.5,636.7 784.0,636.7 785.5,636.7 787.0,636.6 788.5,636.6 790.0,636.6 791.5,636.5 793.0,636.5 794.5,636.5 796.0,636.4 797.5,636.4 799.0,636.3 800.5,636.3 802.0,636.2 803.5,636.2 805.0,636.1 806.5,636.1 808.0,636.0 809.5,635.9 811.0,635.8 812.5,635.8 814.0,635.7 815.5,635.6 817.0,635.5 818.5,635.4 820.0,635.3 821.5,635.2 823.0,635.1 824.5,635.0 826.0,634.9 827.5,634.8 829.0,634.6 830.5,634.5 832.0,634.3 833.5,634.2 835.0,634.0 836.5,633.9 838.0,633.7 839.5,633.5 841.0,633.3 842.5,633.1 844.0,632.9 845.5,632.6 847.0,632.4 848.5,632.2 850.0,631.9 851.5,631.6 853.0,631.3 854.5,631.1 856.0,630.7 857.5,630.4 859.0,630.1 860.5,629.7 862.0,629.4 863.5,629.0 865.0,628.6 866.5,628.2 868.0,627.8 869.5,627.4 871.0,626.9 872.5,626.5 874.0,626.0 875.5,625.5 877.0,625.0 878.5,624.5 880.0,624.0 881.5,623.4 883.0,622.9 884.5,622.3 886.0,621.7 887.5,621.2 889.0,620.6 890.5,620.0 892.0,619.4 893.5,618.7 895.0,618.1 896.5,617.5 898.0,616.9 899.5,616.2 901.0,615.6 902.5,614.9 904.0,614.2 905.5,613.6 907.0,612.9 908.5,612.2 910.0,611.6 911.5,610.9 913.0,610.2 914.5,609.5 916.0,608.9 917.5,608.2 919.0,607.5 920.5,606.8 922.0,606.1 923.5,605.5 925.0,604.8 926.5,604.1 928.0,603.4 929.5,602.8 931.0,602.1 932.5,601.4 934.0,600.8 935.5,600.1 937.0,599.5 938.5,598.8 940.0,598.2 941.5,597.6 943.0,597.0 944.5,596.4 946.0,595.7 947.5,595.2 949.0,594.6 950.5,594.0 952.0,593.4 953.5,592.9 955.0,592.3 956.5,591.8 958.0,591.3 959.5,590.8 961.0,590.3 962.5,589.8 964.0,589.3 965.5,588.9 967.0,588.4 968.5,588.0 968.9,587.9" fill="none" stroke="#5a2480" stroke-width="5.0" stroke-linecap="round" stroke-linejoin="round"/>
<path d="M91.4,29.2H235.2" stroke="#c40013" stroke-width="7.4" stroke-linecap="round"/>
<path d="M499,29.2H642.6" stroke="#5a2480" stroke-width="7.2" stroke-linecap="round"/>
<text x="246.46" y="36.60" font-size="36" fill="#1b1b1b">Without</text><text x="373.48" y="36.6" font-size="36" font-style="italic" fill="#1b1b1b">G</text><text x="398.98" y="46" font-size="21.5" font-style="italic" fill="#1b1b1b">comp−pll</text>
<text x="651.66" y="36.60" font-size="36" fill="#1b1b1b">With</text><text x="731.68" y="36.6" font-size="36" font-style="italic" fill="#1b1b1b">G</text><text x="755.68" y="46" font-size="21.5" font-style="italic" fill="#1b1b1b">comp−pll</text>
<text x="36.08" y="89.80" font-size="36" fill="#1b1b1b">30</text>
<text x="35.02" y="225.50" font-size="36" fill="#1b1b1b">22</text>
<text x="36.20" y="260.00" font-size="36" fill="#1b1b1b">40</text>
<text x="44.63" y="370.90" font-size="36" fill="#1b1b1b">0</text>
<text x="44.23" y="456.30" font-size="36" fill="#1b1b1b">0</text>
<text x="22.34" y="660.80" font-size="36" fill="#1b1b1b">120</text>
<text x="37.14" y="734.90" font-size="36" fill="#1b1b1b">90</text>
<text x="526.63" y="95.10" font-size="36" fill="#1b1b1b">0</text>
<text x="517.88" y="260.50" font-size="36" fill="#1b1b1b">30</text>
<text x="518.24" y="437.00" font-size="36" fill="#1b1b1b">15</text>
<text x="528.33" y="580.40" font-size="36" fill="#1b1b1b">8</text>
<text x="515.64" y="606.30" font-size="36" fill="#1b1b1b">90</text>
<text x="529.03" y="647.00" font-size="36" fill="#1b1b1b">0</text>
<text x="504.86" y="694.60" font-size="36" fill="#1b1b1b">-90</text>
<text x="10.44" y="578.1" font-size="36" fill="#1b1b1b">-100</text>
<text x="489.8" y="222.4" font-size="36" fill="#1b1b1b">-100</text>
<text x="507.7" y="377.6" font-size="36" fill="#1b1b1b">-90</text>
<text x="489.2" y="736.8" font-size="36" fill="#1b1b1b">-180</text>
<text x="76.94" y="411.00" font-size="36" fill="#1b1b1b">10</text><text x="112.90" y="395.10" font-size="21" fill="#1b1b1b">0</text>
<text x="454.14" y="411.00" font-size="36" fill="#1b1b1b">10</text><text x="489.98" y="395.40" font-size="21" fill="#1b1b1b">5</text>
<text x="553.64" y="410.60" font-size="36" fill="#1b1b1b">10</text><text x="590.70" y="394.50" font-size="21" fill="#1b1b1b">0</text>
<text x="931.44" y="411.00" font-size="36" fill="#1b1b1b">10</text><text x="966.78" y="395.00" font-size="21" fill="#1b1b1b">5</text>
<text x="77.44" y="769.20" font-size="36" fill="#1b1b1b">10</text><text x="114.20" y="753.10" font-size="21" fill="#1b1b1b">0</text>
<text x="453.44" y="769.20" font-size="36" fill="#1b1b1b">10</text><text x="488.98" y="753.60" font-size="21" fill="#1b1b1b">5</text>
<text x="554.14" y="769.20" font-size="36" fill="#1b1b1b">10</text><text x="590.10" y="752.30" font-size="21" fill="#1b1b1b">0</text>
<text x="931.14" y="769.40" font-size="36" fill="#1b1b1b">10</text><text x="966.58" y="752.30" font-size="21" fill="#1b1b1b">5</text>
<text x="196.96" y="767.60" font-size="25.6" fill="#1b1b1b" class="s">Frequency (rad/s)</text>
<text x="688.96" y="767.60" font-size="25.7" fill="#1b1b1b" class="s">Frequency (rad/s)</text>
<text class="s" transform="translate(24.3,227.5) rotate(-90)" x="-0.75" y="0" font-size="26" fill="#1b1b1b">Magnitude (dB)</text>
<text class="s" transform="translate(23.6,365.6) rotate(-90)" x="-0.75" y="0" font-size="26" fill="#1b1b1b">Phase (deg)</text>
<text class="s" transform="translate(24.4,564.4) rotate(-90)" x="-0.75" y="0" font-size="26" fill="#1b1b1b">Magnitude (dB)</text>
<text class="s" transform="translate(23.8,718) rotate(-90)" x="-0.75" y="0" font-size="26" fill="#1b1b1b">Phase (deg)</text>
<text x="376.6" y="132.7" font-size="36.6" font-style="italic" fill="#1b1b1b" transform="translate(376.6,0) scale(1.1,1) translate(-376.6,0)">Z</text><text x="398.53" y="142.20" font-size="22" font-style="italic" fill="#1b1b1b">dd</text>
<text x="900.7" y="134.9" font-size="36.6" font-style="italic" fill="#1b1b1b" transform="translate(900.7,0) scale(1.1,1) translate(-900.7,0)">Z</text><text x="922.83" y="143.80" font-size="22" font-style="italic" fill="#1b1b1b">dq</text>
<text x="374.1" y="458.7" font-size="36.6" font-style="italic" fill="#1b1b1b" transform="translate(374.1,0) scale(1.1,1) translate(-374.1,0)">Z</text><text x="395.27" y="466.30" font-size="22" font-style="italic" fill="#1b1b1b">qd</text>
<text x="915.0" y="533" font-size="36.6" font-style="italic" fill="#1b1b1b" transform="translate(915.0,0) scale(1.1,1) translate(-915.0,0)">Z</text><text x="936.27" y="542.00" font-size="22" font-style="italic" fill="#1b1b1b">qq</text>
<path d="M649.6,600V612M651,650V666" stroke="#1b1b1b" stroke-width="2"/>
<path d="M649.4,585.9 L660,606.1 L649.4,603.6 L638.8,606.1 Z" fill="#1b1b1b"/>
<path d="M650.8,683.8 L660.3,664.7 L650.8,667.2 L640.9,664.7 Z" fill="#1b1b1b"/>
<text x="604.99" y="632.30" font-size="36" fill="#1b1b1b">Stable</text>
<text x="602.48" y="657.40" font-size="36" fill="#1b1b1b">region</text>
<text x="720.04" y="687.80" font-size="36" fill="#1b1b1b">Unstable</text>
<text x="734.68" y="709.80" font-size="36" fill="#1b1b1b">region</text>
</svg>
</body></html>
